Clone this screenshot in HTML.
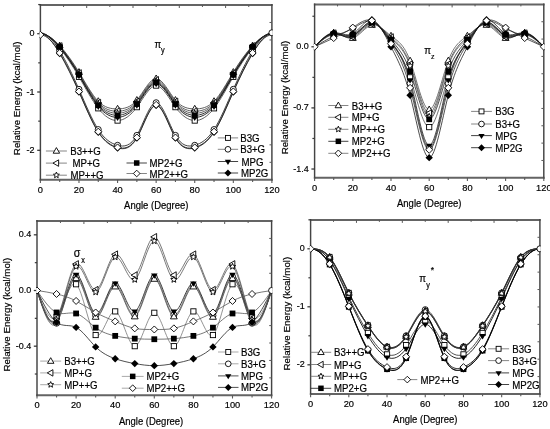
<!DOCTYPE html>
<html><head><meta charset="utf-8"><title>Relative Energy vs Angle</title>
<style>
html,body{margin:0;padding:0;background:#fff;}
body{width:550px;height:429px;overflow:hidden;}
svg{display:block;}
#wrap{width:550px;height:429px;will-change:transform;}
svg text{font-family:"Liberation Sans", sans-serif;fill:#000;stroke:#000;stroke-width:0.18px;}
</style></head>
<body>
<div id="wrap">
<svg width="550" height="429" viewBox="0 0 550 429">
<rect width="550" height="429" fill="#fff"/>
<defs><clipPath id="c1"><rect x="39.6" y="5" width="233.1" height="174.8"/></clipPath><clipPath id="c2"><rect x="313.8" y="4.4" width="230.8" height="173.4"/></clipPath><clipPath id="c3"><rect x="36.2" y="221" width="236.2" height="174.3"/></clipPath><clipPath id="c4"><rect x="309.8" y="219.9" width="230.9" height="174.1"/></clipPath></defs>
<path d="M39.67,5 H272.62 M39.67,179.8 H272.62" fill="none" stroke="#646464" stroke-width="1.95"/><path d="M40.4,4.03 V180.78 M271.9,4.03 V180.78" fill="none" stroke="#444" stroke-width="1.45"/><line x1="40.4" y1="179.8" x2="40.4" y2="183" stroke="#5a5a5a" stroke-width="1.1"/><line x1="59.69" y1="179.8" x2="59.69" y2="182" stroke="#5a5a5a" stroke-width="1.1"/><line x1="78.98" y1="179.8" x2="78.98" y2="183" stroke="#5a5a5a" stroke-width="1.1"/><line x1="98.27" y1="179.8" x2="98.27" y2="182" stroke="#5a5a5a" stroke-width="1.1"/><line x1="117.57" y1="179.8" x2="117.57" y2="183" stroke="#5a5a5a" stroke-width="1.1"/><line x1="136.86" y1="179.8" x2="136.86" y2="182" stroke="#5a5a5a" stroke-width="1.1"/><line x1="156.15" y1="179.8" x2="156.15" y2="183" stroke="#5a5a5a" stroke-width="1.1"/><line x1="175.44" y1="179.8" x2="175.44" y2="182" stroke="#5a5a5a" stroke-width="1.1"/><line x1="194.73" y1="179.8" x2="194.73" y2="183" stroke="#5a5a5a" stroke-width="1.1"/><line x1="214.02" y1="179.8" x2="214.02" y2="182" stroke="#5a5a5a" stroke-width="1.1"/><line x1="233.32" y1="179.8" x2="233.32" y2="183" stroke="#5a5a5a" stroke-width="1.1"/><line x1="252.61" y1="179.8" x2="252.61" y2="182" stroke="#5a5a5a" stroke-width="1.1"/><line x1="271.9" y1="179.8" x2="271.9" y2="183" stroke="#5a5a5a" stroke-width="1.1"/><line x1="63.55" y1="5" x2="63.55" y2="7" stroke="#5a5a5a" stroke-width="1"/><line x1="86.7" y1="5" x2="86.7" y2="8" stroke="#5a5a5a" stroke-width="1"/><line x1="109.85" y1="5" x2="109.85" y2="7" stroke="#5a5a5a" stroke-width="1"/><line x1="133" y1="5" x2="133" y2="8" stroke="#5a5a5a" stroke-width="1"/><line x1="156.15" y1="5" x2="156.15" y2="7" stroke="#5a5a5a" stroke-width="1"/><line x1="179.3" y1="5" x2="179.3" y2="8" stroke="#5a5a5a" stroke-width="1"/><line x1="202.45" y1="5" x2="202.45" y2="7" stroke="#5a5a5a" stroke-width="1"/><line x1="225.6" y1="5" x2="225.6" y2="8" stroke="#5a5a5a" stroke-width="1"/><line x1="248.75" y1="5" x2="248.75" y2="7" stroke="#5a5a5a" stroke-width="1"/><line x1="271.9" y1="22.48" x2="269.5" y2="22.48" stroke="#5a5a5a" stroke-width="1"/><line x1="271.9" y1="39.96" x2="269.5" y2="39.96" stroke="#5a5a5a" stroke-width="1"/><line x1="271.9" y1="57.44" x2="269.5" y2="57.44" stroke="#5a5a5a" stroke-width="1"/><line x1="271.9" y1="74.92" x2="269.5" y2="74.92" stroke="#5a5a5a" stroke-width="1"/><line x1="271.9" y1="92.4" x2="269.5" y2="92.4" stroke="#5a5a5a" stroke-width="1"/><line x1="271.9" y1="109.88" x2="269.5" y2="109.88" stroke="#5a5a5a" stroke-width="1"/><line x1="271.9" y1="127.36" x2="269.5" y2="127.36" stroke="#5a5a5a" stroke-width="1"/><line x1="271.9" y1="144.84" x2="269.5" y2="144.84" stroke="#5a5a5a" stroke-width="1"/><line x1="271.9" y1="162.32" x2="269.5" y2="162.32" stroke="#5a5a5a" stroke-width="1"/><line x1="40.4" y1="33.7" x2="37.2" y2="33.7" stroke="#333" stroke-width="1.25"/><line x1="40.4" y1="92" x2="37.2" y2="92" stroke="#333" stroke-width="1.25"/><line x1="40.4" y1="150.3" x2="37.2" y2="150.3" stroke="#333" stroke-width="1.25"/><line x1="40.4" y1="4.55" x2="38.2" y2="4.55" stroke="#3a3a3a" stroke-width="1.2"/><line x1="40.4" y1="62.85" x2="38.2" y2="62.85" stroke="#3a3a3a" stroke-width="1.2"/><line x1="40.4" y1="121.15" x2="38.2" y2="121.15" stroke="#3a3a3a" stroke-width="1.2"/><text transform="translate(34.6,36.2) scale(1,1.1)" font-size="9.0" text-anchor="end">0</text><text transform="translate(34.6,94.5) scale(1,1.1)" font-size="9.0" text-anchor="end">-1</text><text transform="translate(34.6,152.8) scale(1,1.1)" font-size="9.0" text-anchor="end">-2</text><text transform="translate(40.4,192.6) scale(1,1.06)" font-size="9.3" text-anchor="middle">0</text><text transform="translate(78.98,192.6) scale(1,1.06)" font-size="9.3" text-anchor="middle">20</text><text transform="translate(117.57,192.6) scale(1,1.06)" font-size="9.3" text-anchor="middle">40</text><text transform="translate(156.15,192.6) scale(1,1.06)" font-size="9.3" text-anchor="middle">60</text><text transform="translate(194.73,192.6) scale(1,1.06)" font-size="9.3" text-anchor="middle">80</text><text transform="translate(233.32,192.6) scale(1,1.06)" font-size="9.3" text-anchor="middle">100</text><text transform="translate(271.9,192.6) scale(1,1.06)" font-size="9.3" text-anchor="middle">120</text>
<g clip-path="url(#c1)">
<path d="M40.4,33.7 C46.83,33.7 53.26,38.67 59.69,45.65 C66.12,52.64 72.55,61.65 78.98,72.18 C85.41,82.71 91.84,94.77 98.27,101.33 C104.71,107.89 111.14,108.95 117.57,108.91 C124,108.87 130.43,107.73 136.86,100.16 C143.29,92.59 149.72,78.59 156.15,78.59 C162.58,78.59 169.01,92.59 175.44,100.16 C181.87,107.73 188.3,108.87 194.73,108.91 C201.16,108.95 207.59,107.89 214.02,101.33 C220.46,94.77 226.89,82.71 233.32,72.18 C239.75,61.65 246.18,52.64 252.61,45.65 C259.04,38.67 265.47,33.7 271.9,33.7" fill="none" stroke="#444" stroke-width="0.85"/><path d="M40.4,33.7 C46.83,33.7 53.26,38.92 59.69,46.12 C66.12,53.31 72.55,62.48 78.98,73.11 C85.41,83.74 91.84,95.84 98.27,102.73 C104.71,109.62 111.14,111.3 117.57,111.24 C124,111.17 130.43,109.36 136.86,101.56 C143.29,93.77 149.72,79.99 156.15,79.99 C162.58,79.99 169.01,93.77 175.44,101.56 C181.87,109.36 188.3,111.17 194.73,111.24 C201.16,111.3 207.59,109.62 214.02,102.73 C220.46,95.84 226.89,83.74 233.32,73.11 C239.75,62.48 246.18,53.31 252.61,46.12 C259.04,38.92 265.47,33.7 271.9,33.7" fill="none" stroke="#444" stroke-width="0.85"/><path d="M40.4,33.7 C46.83,33.7 53.26,39.15 59.69,46.53 C66.12,53.9 72.55,63.21 78.98,73.93 C85.41,84.64 91.84,96.77 98.27,103.95 C104.71,111.13 111.14,113.37 117.57,113.28 C124,113.19 130.43,110.78 136.86,102.79 C143.29,94.79 149.72,81.21 156.15,81.21 C162.58,81.21 169.01,94.79 175.44,102.79 C181.87,110.78 188.3,113.19 194.73,113.28 C201.16,113.37 207.59,111.13 214.02,103.95 C220.46,96.77 226.89,84.64 233.32,73.93 C239.75,63.21 246.18,53.9 252.61,46.53 C259.04,39.15 265.47,33.7 271.9,33.7" fill="none" stroke="#444" stroke-width="0.85"/><path d="M40.4,33.7 C46.83,33.7 53.26,39.37 59.69,46.93 C66.12,54.49 72.55,63.94 78.98,74.74 C85.41,85.55 91.84,97.7 98.27,105.18 C104.71,112.65 111.14,115.43 117.57,115.32 C124,115.21 130.43,112.2 136.86,104.01 C143.29,95.82 149.72,82.44 156.15,82.44 C162.58,82.44 169.01,95.82 175.44,104.01 C181.87,112.2 188.3,115.21 194.73,115.32 C201.16,115.43 207.59,112.65 214.02,105.18 C220.46,97.7 226.89,85.55 233.32,74.74 C239.75,63.94 246.18,54.49 252.61,46.93 C259.04,39.37 265.47,33.7 271.9,33.7" fill="none" stroke="#111" stroke-width="0.85"/><path d="M40.4,33.7 C46.83,33.7 53.26,39.6 59.69,47.34 C66.12,55.08 72.55,64.67 78.98,75.56 C85.41,86.45 91.84,98.64 98.27,106.4 C104.71,114.16 111.14,117.49 117.57,117.36 C124,117.23 130.43,113.62 136.86,105.23 C143.29,96.84 149.72,83.66 156.15,83.66 C162.58,83.66 169.01,96.84 175.44,105.23 C181.87,113.62 188.3,117.23 194.73,117.36 C201.16,117.49 207.59,114.16 214.02,106.4 C220.46,98.64 226.89,86.45 233.32,75.56 C239.75,64.67 246.18,55.08 252.61,47.34 C259.04,39.6 265.47,33.7 271.9,33.7" fill="none" stroke="#000" stroke-width="0.85"/><path d="M40.4,33.7 C46.83,33.7 53.26,39.95 59.69,47.98 C66.12,56.01 72.55,65.82 78.98,76.84 C85.41,87.87 91.84,100.11 98.27,108.32 C104.71,116.54 111.14,120.74 117.57,120.57 C124,120.4 130.43,115.86 136.86,107.16 C143.29,98.46 149.72,85.59 156.15,85.59 C162.58,85.59 169.01,98.46 175.44,107.16 C181.87,115.86 188.3,120.4 194.73,120.57 C201.16,120.74 207.59,116.54 214.02,108.32 C220.46,100.11 226.89,87.87 233.32,76.84 C239.75,65.82 246.18,56.01 252.61,47.98 C259.04,39.95 265.47,33.7 271.9,33.7" fill="none" stroke="#444" stroke-width="0.85"/><path d="M40.4,33.7 C46.83,33.7 53.26,42.56 59.69,53.52 C66.12,64.48 72.55,77.55 78.98,92 C85.41,106.45 91.84,122.28 98.27,132.23 C104.71,142.17 111.14,146.23 117.57,147.97 C124,149.71 130.43,149.13 136.86,138.06 C143.29,126.98 149.72,105.41 156.15,105.41 C162.58,105.41 169.01,126.98 175.44,138.06 C181.87,149.13 188.3,149.71 194.73,147.97 C201.16,146.23 207.59,142.17 214.02,132.23 C220.46,122.28 226.89,106.45 233.32,92 C239.75,77.55 246.18,64.48 252.61,53.52 C259.04,42.56 265.47,33.7 271.9,33.7" fill="none" stroke="#222" stroke-width="0.85"/><path d="M40.4,32.77 C46.83,32.77 53.26,40.35 59.69,50.84 C66.12,61.33 72.55,74.74 78.98,89.32 C85.41,103.89 91.84,119.63 98.27,129.55 C104.71,139.46 111.14,143.54 117.57,145.29 C124,147.04 130.43,146.45 136.86,135.38 C143.29,124.3 149.72,102.73 156.15,102.73 C162.58,102.73 169.01,124.3 175.44,135.38 C181.87,146.45 188.3,147.04 194.73,145.29 C201.16,143.54 207.59,139.46 214.02,129.55 C220.46,119.63 226.89,103.89 233.32,89.32 C239.75,74.74 246.18,61.33 252.61,50.84 C259.04,40.35 265.47,32.77 271.9,32.77" fill="none" stroke="#222" stroke-width="0.85"/><path d="M40.4,34.87 C46.83,34.87 53.26,42.45 59.69,52.94 C66.12,63.43 72.55,76.84 78.98,91.42 C85.41,105.99 91.84,121.73 98.27,131.64 C104.71,141.56 111.14,145.64 117.57,147.38 C124,149.13 130.43,148.55 136.86,137.47 C143.29,126.4 149.72,104.83 156.15,104.83 C162.58,104.83 169.01,126.4 175.44,137.47 C181.87,148.55 188.3,149.13 194.73,147.38 C201.16,145.64 207.59,141.56 214.02,131.64 C220.46,121.73 226.89,105.99 233.32,91.42 C239.75,76.84 246.18,63.43 252.61,52.94 C259.04,42.45 265.47,34.87 271.9,34.87" fill="none" stroke="#222" stroke-width="0.85"/><rect x="57.09" y="45.38" width="5.2" height="5.2" fill="#fff" stroke="#000" stroke-width="0.9"/><rect x="76.38" y="74.24" width="5.2" height="5.2" fill="#fff" stroke="#000" stroke-width="0.9"/><rect x="95.67" y="105.72" width="5.2" height="5.2" fill="#fff" stroke="#000" stroke-width="0.9"/><rect x="114.97" y="117.97" width="5.2" height="5.2" fill="#fff" stroke="#000" stroke-width="0.9"/><rect x="134.26" y="104.56" width="5.2" height="5.2" fill="#fff" stroke="#000" stroke-width="0.9"/><rect x="153.55" y="82.99" width="5.2" height="5.2" fill="#fff" stroke="#000" stroke-width="0.9"/><rect x="172.84" y="104.56" width="5.2" height="5.2" fill="#fff" stroke="#000" stroke-width="0.9"/><rect x="192.13" y="117.97" width="5.2" height="5.2" fill="#fff" stroke="#000" stroke-width="0.9"/><rect x="211.42" y="105.72" width="5.2" height="5.2" fill="#fff" stroke="#000" stroke-width="0.9"/><rect x="230.72" y="74.24" width="5.2" height="5.2" fill="#fff" stroke="#000" stroke-width="0.9"/><rect x="250.01" y="45.38" width="5.2" height="5.2" fill="#fff" stroke="#000" stroke-width="0.9"/><circle cx="59.69" cy="50.84" r="3" fill="#fff" stroke="#000" stroke-width="0.9"/><circle cx="78.98" cy="89.32" r="3" fill="#fff" stroke="#000" stroke-width="0.9"/><circle cx="98.27" cy="129.55" r="3" fill="#fff" stroke="#000" stroke-width="0.9"/><circle cx="117.57" cy="145.29" r="3" fill="#fff" stroke="#000" stroke-width="0.9"/><circle cx="136.86" cy="135.38" r="3" fill="#fff" stroke="#000" stroke-width="0.9"/><circle cx="156.15" cy="102.73" r="3" fill="#fff" stroke="#000" stroke-width="0.9"/><circle cx="175.44" cy="135.38" r="3" fill="#fff" stroke="#000" stroke-width="0.9"/><circle cx="194.73" cy="145.29" r="3" fill="#fff" stroke="#000" stroke-width="0.9"/><circle cx="214.02" cy="129.55" r="3" fill="#fff" stroke="#000" stroke-width="0.9"/><circle cx="233.32" cy="89.32" r="3" fill="#fff" stroke="#000" stroke-width="0.9"/><circle cx="252.61" cy="50.84" r="3" fill="#fff" stroke="#000" stroke-width="0.9"/><circle cx="271.9" cy="32.77" r="3" fill="#fff" stroke="#000" stroke-width="0.9"/><path d="M59.69,42.05 L63.11,47.99 L56.27,47.99 Z" fill="#fff" stroke="#000" stroke-width="0.9"/><path d="M78.98,68.58 L82.4,74.52 L75.56,74.52 Z" fill="#fff" stroke="#000" stroke-width="0.9"/><path d="M98.27,97.73 L101.69,103.67 L94.85,103.67 Z" fill="#fff" stroke="#000" stroke-width="0.9"/><path d="M117.57,105.31 L120.99,111.25 L114.15,111.25 Z" fill="#fff" stroke="#000" stroke-width="0.9"/><path d="M136.86,96.56 L140.28,102.5 L133.44,102.5 Z" fill="#fff" stroke="#000" stroke-width="0.9"/><path d="M156.15,74.99 L159.57,80.93 L152.73,80.93 Z" fill="#fff" stroke="#000" stroke-width="0.9"/><path d="M175.44,96.56 L178.86,102.5 L172.02,102.5 Z" fill="#fff" stroke="#000" stroke-width="0.9"/><path d="M194.73,105.31 L198.15,111.25 L191.31,111.25 Z" fill="#fff" stroke="#000" stroke-width="0.9"/><path d="M214.02,97.73 L217.44,103.67 L210.6,103.67 Z" fill="#fff" stroke="#000" stroke-width="0.9"/><path d="M233.32,68.58 L236.74,74.52 L229.9,74.52 Z" fill="#fff" stroke="#000" stroke-width="0.9"/><path d="M252.61,42.05 L256.03,47.99 L249.19,47.99 Z" fill="#fff" stroke="#000" stroke-width="0.9"/><path d="M59.69,50.94 L62.99,45.54 L56.39,45.54 Z" fill="#000"/><path d="M78.98,79.16 L82.28,73.76 L75.68,73.76 Z" fill="#000"/><path d="M98.27,110 L101.57,104.6 L94.97,104.6 Z" fill="#000"/><path d="M117.57,120.96 L120.87,115.56 L114.27,115.56 Z" fill="#000"/><path d="M136.86,108.83 L140.16,103.43 L133.56,103.43 Z" fill="#000"/><path d="M156.15,87.26 L159.45,81.86 L152.85,81.86 Z" fill="#000"/><path d="M175.44,108.83 L178.74,103.43 L172.14,103.43 Z" fill="#000"/><path d="M194.73,120.96 L198.03,115.56 L191.43,115.56 Z" fill="#000"/><path d="M214.02,110 L217.32,104.6 L210.72,104.6 Z" fill="#000"/><path d="M233.32,79.16 L236.62,73.76 L230.02,73.76 Z" fill="#000"/><path d="M252.61,50.94 L255.91,45.54 L249.31,45.54 Z" fill="#000"/><path d="M56.09,46.12 L62.03,42.7 L62.03,49.54 Z" fill="#fff" stroke="#000" stroke-width="0.9"/><path d="M75.38,73.11 L81.32,69.69 L81.32,76.53 Z" fill="#fff" stroke="#000" stroke-width="0.9"/><path d="M94.67,102.73 L100.61,99.31 L100.61,106.15 Z" fill="#fff" stroke="#000" stroke-width="0.9"/><path d="M113.97,111.24 L119.91,107.82 L119.91,114.66 Z" fill="#fff" stroke="#000" stroke-width="0.9"/><path d="M133.26,101.56 L139.2,98.14 L139.2,104.98 Z" fill="#fff" stroke="#000" stroke-width="0.9"/><path d="M152.55,79.99 L158.49,76.57 L158.49,83.41 Z" fill="#fff" stroke="#000" stroke-width="0.9"/><path d="M171.84,101.56 L177.78,98.14 L177.78,104.98 Z" fill="#fff" stroke="#000" stroke-width="0.9"/><path d="M191.13,111.24 L197.07,107.82 L197.07,114.66 Z" fill="#fff" stroke="#000" stroke-width="0.9"/><path d="M210.42,102.73 L216.36,99.31 L216.36,106.15 Z" fill="#fff" stroke="#000" stroke-width="0.9"/><path d="M229.72,73.11 L235.66,69.69 L235.66,76.53 Z" fill="#fff" stroke="#000" stroke-width="0.9"/><path d="M249.01,46.12 L254.95,42.7 L254.95,49.54 Z" fill="#fff" stroke="#000" stroke-width="0.9"/><path d="M59.69,43.23 L60.56,45.32 L62.83,45.51 L61.1,46.98 L61.63,49.2 L59.69,48.01 L57.75,49.2 L58.28,46.98 L56.55,45.51 L58.82,45.32 Z" fill="#fff" stroke="#000" stroke-width="0.9"/><path d="M78.98,70.63 L79.86,72.73 L82.12,72.91 L80.4,74.39 L80.92,76.6 L78.98,75.41 L77.04,76.6 L77.57,74.39 L75.84,72.91 L78.11,72.73 Z" fill="#fff" stroke="#000" stroke-width="0.9"/><path d="M98.27,100.65 L99.15,102.75 L101.41,102.93 L99.69,104.41 L100.21,106.62 L98.27,105.44 L96.34,106.62 L96.86,104.41 L95.14,102.93 L97.4,102.75 Z" fill="#fff" stroke="#000" stroke-width="0.9"/><path d="M117.57,109.98 L118.44,112.08 L120.71,112.26 L118.98,113.74 L119.51,115.95 L117.57,114.76 L115.63,115.95 L116.15,113.74 L114.43,112.26 L116.69,112.08 Z" fill="#fff" stroke="#000" stroke-width="0.9"/><path d="M136.86,99.49 L137.73,101.58 L140,101.77 L138.27,103.24 L138.8,105.46 L136.86,104.27 L134.92,105.46 L135.45,103.24 L133.72,101.77 L135.99,101.58 Z" fill="#fff" stroke="#000" stroke-width="0.9"/><path d="M156.15,77.91 L157.02,80.01 L159.29,80.19 L157.56,81.67 L158.09,83.88 L156.15,82.7 L154.21,83.88 L154.74,81.67 L153.01,80.19 L155.28,80.01 Z" fill="#fff" stroke="#000" stroke-width="0.9"/><path d="M175.44,99.49 L176.31,101.58 L178.58,101.77 L176.85,103.24 L177.38,105.46 L175.44,104.27 L173.5,105.46 L174.03,103.24 L172.3,101.77 L174.57,101.58 Z" fill="#fff" stroke="#000" stroke-width="0.9"/><path d="M194.73,109.98 L195.61,112.08 L197.87,112.26 L196.15,113.74 L196.67,115.95 L194.73,114.76 L192.79,115.95 L193.32,113.74 L191.59,112.26 L193.86,112.08 Z" fill="#fff" stroke="#000" stroke-width="0.9"/><path d="M214.02,100.65 L214.9,102.75 L217.16,102.93 L215.44,104.41 L215.96,106.62 L214.02,105.44 L212.09,106.62 L212.61,104.41 L210.89,102.93 L213.15,102.75 Z" fill="#fff" stroke="#000" stroke-width="0.9"/><path d="M233.32,70.63 L234.19,72.73 L236.46,72.91 L234.73,74.39 L235.26,76.6 L233.32,75.41 L231.38,76.6 L231.9,74.39 L230.18,72.91 L232.44,72.73 Z" fill="#fff" stroke="#000" stroke-width="0.9"/><path d="M252.61,43.23 L253.48,45.32 L255.75,45.51 L254.02,46.98 L254.55,49.2 L252.61,48.01 L250.67,49.2 L251.2,46.98 L249.47,45.51 L251.74,45.32 Z" fill="#fff" stroke="#000" stroke-width="0.9"/><path d="M59.69,49.82 L63.39,53.52 L59.69,57.22 L55.99,53.52 Z" fill="#000"/><path d="M78.98,88.3 L82.68,92 L78.98,95.7 L75.28,92 Z" fill="#000"/><path d="M98.27,128.53 L101.97,132.23 L98.27,135.93 L94.57,132.23 Z" fill="#000"/><path d="M117.57,144.27 L121.27,147.97 L117.57,151.67 L113.87,147.97 Z" fill="#000"/><path d="M136.86,134.36 L140.56,138.06 L136.86,141.76 L133.16,138.06 Z" fill="#000"/><path d="M156.15,101.71 L159.85,105.41 L156.15,109.11 L152.45,105.41 Z" fill="#000"/><path d="M175.44,134.36 L179.14,138.06 L175.44,141.76 L171.74,138.06 Z" fill="#000"/><path d="M194.73,144.27 L198.43,147.97 L194.73,151.67 L191.03,147.97 Z" fill="#000"/><path d="M214.02,128.53 L217.72,132.23 L214.02,135.93 L210.32,132.23 Z" fill="#000"/><path d="M233.32,88.3 L237.02,92 L233.32,95.7 L229.62,92 Z" fill="#000"/><path d="M252.61,49.82 L256.31,53.52 L252.61,57.22 L248.91,53.52 Z" fill="#000"/><rect x="56.79" y="44.03" width="5.8" height="5.8" fill="#000"/><rect x="76.08" y="71.84" width="5.8" height="5.8" fill="#000"/><rect x="95.37" y="102.28" width="5.8" height="5.8" fill="#000"/><rect x="114.67" y="112.42" width="5.8" height="5.8" fill="#000"/><rect x="133.96" y="101.11" width="5.8" height="5.8" fill="#000"/><rect x="153.25" y="79.54" width="5.8" height="5.8" fill="#000"/><rect x="172.54" y="101.11" width="5.8" height="5.8" fill="#000"/><rect x="191.83" y="112.42" width="5.8" height="5.8" fill="#000"/><rect x="211.12" y="102.28" width="5.8" height="5.8" fill="#000"/><rect x="230.42" y="71.84" width="5.8" height="5.8" fill="#000"/><rect x="249.71" y="44.03" width="5.8" height="5.8" fill="#000"/><path d="M40.4,31.37 L43.9,34.87 L40.4,38.37 L36.9,34.87 Z" fill="#fff" stroke="#000" stroke-width="0.9"/><path d="M59.69,49.44 L63.19,52.94 L59.69,56.44 L56.19,52.94 Z" fill="#fff" stroke="#000" stroke-width="0.9"/><path d="M78.98,87.92 L82.48,91.42 L78.98,94.92 L75.48,91.42 Z" fill="#fff" stroke="#000" stroke-width="0.9"/><path d="M98.27,128.14 L101.77,131.64 L98.27,135.14 L94.77,131.64 Z" fill="#fff" stroke="#000" stroke-width="0.9"/><path d="M117.57,143.88 L121.07,147.38 L117.57,150.88 L114.07,147.38 Z" fill="#fff" stroke="#000" stroke-width="0.9"/><path d="M136.86,133.97 L140.36,137.47 L136.86,140.97 L133.36,137.47 Z" fill="#fff" stroke="#000" stroke-width="0.9"/><path d="M156.15,101.33 L159.65,104.83 L156.15,108.33 L152.65,104.83 Z" fill="#fff" stroke="#000" stroke-width="0.9"/><path d="M175.44,133.97 L178.94,137.47 L175.44,140.97 L171.94,137.47 Z" fill="#fff" stroke="#000" stroke-width="0.9"/><path d="M194.73,143.88 L198.23,147.38 L194.73,150.88 L191.23,147.38 Z" fill="#fff" stroke="#000" stroke-width="0.9"/><path d="M214.02,128.14 L217.52,131.64 L214.02,135.14 L210.52,131.64 Z" fill="#fff" stroke="#000" stroke-width="0.9"/><path d="M233.32,87.92 L236.82,91.42 L233.32,94.92 L229.82,91.42 Z" fill="#fff" stroke="#000" stroke-width="0.9"/><path d="M252.61,49.44 L256.11,52.94 L252.61,56.44 L249.11,52.94 Z" fill="#fff" stroke="#000" stroke-width="0.9"/>
</g>
<text transform="translate(154.6,47.6) scale(1,1.12)" font-size="9.8" text-anchor="start">&#960;</text>
<text transform="translate(161,53.2) scale(1,1.12)" font-size="7.3" text-anchor="start">y</text>
<line x1="45.9" y1="151" x2="66.9" y2="151" stroke="#707070" stroke-width="0.85"/><path d="M56.4,147.58 L59.65,153.22 L53.15,153.22 Z" fill="#fff" stroke="#000" stroke-width="0.9"/><text transform="translate(70.2,155) scale(1,1.08)" font-size="9.65" text-anchor="start">B3++G</text>
<line x1="45.9" y1="163.1" x2="66.9" y2="163.1" stroke="#707070" stroke-width="0.85"/><path d="M52.98,163.1 L58.62,159.85 L58.62,166.35 Z" fill="#fff" stroke="#000" stroke-width="0.9"/><text transform="translate(72.5,167.1) scale(1,1.08)" font-size="9.65" text-anchor="start">MP+G</text>
<line x1="45.9" y1="175.2" x2="66.9" y2="175.2" stroke="#707070" stroke-width="0.85"/><path d="M56.4,172.06 L57.23,174.06 L59.38,174.23 L57.74,175.64 L58.24,177.74 L56.4,176.61 L54.56,177.74 L55.06,175.64 L53.42,174.23 L55.57,174.06 Z" fill="#fff" stroke="#000" stroke-width="0.9"/><text transform="translate(70.4,179.2) scale(1,1.08)" font-size="9.65" text-anchor="start">MP++G</text>
<line x1="126.5" y1="163" x2="146.9" y2="163" stroke="#222" stroke-width="0.85"/><rect x="133.94" y="160.25" width="5.51" height="5.51" fill="#000"/><text transform="translate(149.5,167) scale(1,1.08)" font-size="9.65" text-anchor="start">MP2+G</text>
<line x1="126.5" y1="173.5" x2="146.9" y2="173.5" stroke="#707070" stroke-width="0.85"/><path d="M136.7,170.18 L140.02,173.5 L136.7,176.82 L133.38,173.5 Z" fill="#fff" stroke="#000" stroke-width="0.9"/><text transform="translate(149.5,177.5) scale(1,1.08)" font-size="9.65" text-anchor="start">MP2++G</text>
<line x1="217.8" y1="137.9" x2="238.1" y2="137.9" stroke="#707070" stroke-width="0.85"/><rect x="225.48" y="135.43" width="4.94" height="4.94" fill="#fff" stroke="#000" stroke-width="0.9"/><text transform="translate(240.2,141.9) scale(1,1.08)" font-size="9.65" text-anchor="start">B3G</text>
<line x1="217.8" y1="149.3" x2="238.1" y2="149.3" stroke="#707070" stroke-width="0.85"/><circle cx="227.95" cy="149.3" r="2.85" fill="#fff" stroke="#000" stroke-width="0.9"/><text transform="translate(240.2,153.3) scale(1,1.08)" font-size="9.65" text-anchor="start">B3+G</text>
<line x1="217.8" y1="161.5" x2="238.1" y2="161.5" stroke="#222" stroke-width="0.85"/><path d="M227.95,164.92 L231.08,159.79 L224.81,159.79 Z" fill="#000"/><text transform="translate(241.5,165.5) scale(1,1.08)" font-size="9.65" text-anchor="start">MPG</text>
<line x1="217.8" y1="173" x2="238.1" y2="173" stroke="#222" stroke-width="0.85"/><path d="M227.95,169.49 L231.46,173 L227.95,176.51 L224.44,173 Z" fill="#000"/><text transform="translate(241,177) scale(1,1.08)" font-size="9.65" text-anchor="start">MP2G</text>
<text x="0" y="0" font-size="9.9" text-anchor="middle" transform="translate(19.9,98.3) scale(1,0.985) rotate(-90)">Relative Energy (kcal/mol)</text>
<text transform="translate(156.3,209) scale(1,1.12)" font-size="9.5" text-anchor="middle">Angle (Degree)</text>
<path d="M313.88,4.4 H544.52 M313.88,177.8 H544.52" fill="none" stroke="#646464" stroke-width="1.95"/><path d="M314.6,3.43 V178.78 M543.8,3.43 V178.78" fill="none" stroke="#444" stroke-width="1.45"/><line x1="314.6" y1="177.8" x2="314.6" y2="181" stroke="#5a5a5a" stroke-width="1.1"/><line x1="333.7" y1="177.8" x2="333.7" y2="180" stroke="#5a5a5a" stroke-width="1.1"/><line x1="352.8" y1="177.8" x2="352.8" y2="181" stroke="#5a5a5a" stroke-width="1.1"/><line x1="371.9" y1="177.8" x2="371.9" y2="180" stroke="#5a5a5a" stroke-width="1.1"/><line x1="391" y1="177.8" x2="391" y2="181" stroke="#5a5a5a" stroke-width="1.1"/><line x1="410.1" y1="177.8" x2="410.1" y2="180" stroke="#5a5a5a" stroke-width="1.1"/><line x1="429.2" y1="177.8" x2="429.2" y2="181" stroke="#5a5a5a" stroke-width="1.1"/><line x1="448.3" y1="177.8" x2="448.3" y2="180" stroke="#5a5a5a" stroke-width="1.1"/><line x1="467.4" y1="177.8" x2="467.4" y2="181" stroke="#5a5a5a" stroke-width="1.1"/><line x1="486.5" y1="177.8" x2="486.5" y2="180" stroke="#5a5a5a" stroke-width="1.1"/><line x1="505.6" y1="177.8" x2="505.6" y2="181" stroke="#5a5a5a" stroke-width="1.1"/><line x1="524.7" y1="177.8" x2="524.7" y2="180" stroke="#5a5a5a" stroke-width="1.1"/><line x1="543.8" y1="177.8" x2="543.8" y2="181" stroke="#5a5a5a" stroke-width="1.1"/><line x1="337.52" y1="4.4" x2="337.52" y2="6.4" stroke="#5a5a5a" stroke-width="1"/><line x1="360.44" y1="4.4" x2="360.44" y2="7.4" stroke="#5a5a5a" stroke-width="1"/><line x1="383.36" y1="4.4" x2="383.36" y2="6.4" stroke="#5a5a5a" stroke-width="1"/><line x1="406.28" y1="4.4" x2="406.28" y2="7.4" stroke="#5a5a5a" stroke-width="1"/><line x1="429.2" y1="4.4" x2="429.2" y2="6.4" stroke="#5a5a5a" stroke-width="1"/><line x1="452.12" y1="4.4" x2="452.12" y2="7.4" stroke="#5a5a5a" stroke-width="1"/><line x1="475.04" y1="4.4" x2="475.04" y2="6.4" stroke="#5a5a5a" stroke-width="1"/><line x1="497.96" y1="4.4" x2="497.96" y2="7.4" stroke="#5a5a5a" stroke-width="1"/><line x1="520.88" y1="4.4" x2="520.88" y2="6.4" stroke="#5a5a5a" stroke-width="1"/><line x1="543.8" y1="21.74" x2="541.4" y2="21.74" stroke="#5a5a5a" stroke-width="1"/><line x1="543.8" y1="39.08" x2="541.4" y2="39.08" stroke="#5a5a5a" stroke-width="1"/><line x1="543.8" y1="56.42" x2="541.4" y2="56.42" stroke="#5a5a5a" stroke-width="1"/><line x1="543.8" y1="73.76" x2="541.4" y2="73.76" stroke="#5a5a5a" stroke-width="1"/><line x1="543.8" y1="91.1" x2="541.4" y2="91.1" stroke="#5a5a5a" stroke-width="1"/><line x1="543.8" y1="108.44" x2="541.4" y2="108.44" stroke="#5a5a5a" stroke-width="1"/><line x1="543.8" y1="125.78" x2="541.4" y2="125.78" stroke="#5a5a5a" stroke-width="1"/><line x1="543.8" y1="143.12" x2="541.4" y2="143.12" stroke="#5a5a5a" stroke-width="1"/><line x1="543.8" y1="160.46" x2="541.4" y2="160.46" stroke="#5a5a5a" stroke-width="1"/><line x1="314.6" y1="46.8" x2="311.4" y2="46.8" stroke="#333" stroke-width="1.25"/><line x1="314.6" y1="107.91" x2="311.4" y2="107.91" stroke="#333" stroke-width="1.25"/><line x1="314.6" y1="169.02" x2="311.4" y2="169.02" stroke="#333" stroke-width="1.25"/><line x1="314.6" y1="16.25" x2="312.4" y2="16.25" stroke="#3a3a3a" stroke-width="1.2"/><line x1="314.6" y1="77.35" x2="312.4" y2="77.35" stroke="#3a3a3a" stroke-width="1.2"/><line x1="314.6" y1="138.47" x2="312.4" y2="138.47" stroke="#3a3a3a" stroke-width="1.2"/><text transform="translate(308.8,49.3) scale(1,1.1)" font-size="9.0" text-anchor="end">0.0</text><text transform="translate(308.8,110.41) scale(1,1.1)" font-size="9.0" text-anchor="end">-0.7</text><text transform="translate(308.8,171.52) scale(1,1.1)" font-size="9.0" text-anchor="end">-1.4</text><text transform="translate(314.6,190.6) scale(1,1.06)" font-size="9.3" text-anchor="middle">0</text><text transform="translate(352.8,190.6) scale(1,1.06)" font-size="9.3" text-anchor="middle">20</text><text transform="translate(391,190.6) scale(1,1.06)" font-size="9.3" text-anchor="middle">40</text><text transform="translate(429.2,190.6) scale(1,1.06)" font-size="9.3" text-anchor="middle">60</text><text transform="translate(467.4,190.6) scale(1,1.06)" font-size="9.3" text-anchor="middle">80</text><text transform="translate(505.6,190.6) scale(1,1.06)" font-size="9.3" text-anchor="middle">100</text><text transform="translate(543.8,190.6) scale(1,1.06)" font-size="9.3" text-anchor="middle">120</text>
<g clip-path="url(#c2)">
<path d="M314.6,46.8 C320.97,39.84 327.33,32.87 333.7,32.83 C340.07,32.79 346.43,39.68 352.8,38.07 C359.17,36.46 365.53,26.37 371.9,24.97 C378.27,23.58 384.63,30.89 391,35.89 C397.37,40.89 403.73,43.58 410.1,60.77 C416.47,77.96 422.83,109.66 429.2,109.66 C435.57,109.66 441.93,77.96 448.3,60.77 C454.67,43.58 461.03,40.89 467.4,35.89 C473.77,30.89 480.13,23.58 486.5,24.97 C492.87,26.37 499.23,36.46 505.6,38.07 C511.97,39.68 518.33,32.79 524.7,32.83 C531.07,32.87 537.43,39.84 543.8,46.8" fill="none" stroke="#444" stroke-width="0.75"/><path d="M314.6,46.8 C320.97,40.18 327.33,33.56 333.7,33.27 C340.07,32.98 346.43,39.01 352.8,37.02 C359.17,35.04 365.53,25.04 371.9,24.1 C378.27,23.17 384.63,31.3 391,37.2 C397.37,43.09 403.73,46.75 410.1,64.26 C416.47,81.77 422.83,113.15 429.2,113.15 C435.57,113.15 441.93,81.77 448.3,64.26 C454.67,46.75 461.03,43.09 467.4,37.2 C473.77,31.3 480.13,23.17 486.5,24.1 C492.87,25.04 499.23,35.04 505.6,37.02 C511.97,39.01 518.33,32.98 524.7,33.27 C531.07,33.56 537.43,40.18 543.8,46.8" fill="none" stroke="#444" stroke-width="0.75"/><path d="M314.6,46.8 C320.97,40.53 327.33,34.27 333.7,33.7 C340.07,33.14 346.43,38.29 352.8,35.89 C359.17,33.49 365.53,23.54 371.9,23.23 C378.27,22.91 384.63,32.22 391,38.51 C397.37,44.79 403.73,48.04 410.1,66.01 C416.47,83.97 422.83,116.64 429.2,116.64 C435.57,116.64 441.93,83.97 448.3,66.01 C454.67,48.04 461.03,44.79 467.4,38.51 C473.77,32.22 480.13,22.91 486.5,23.23 C492.87,23.54 499.23,33.49 505.6,35.89 C511.97,38.29 518.33,33.14 524.7,33.7 C531.07,34.27 537.43,40.53 543.8,46.8" fill="none" stroke="#444" stroke-width="0.75"/><path d="M314.6,46.8 C320.97,40.92 327.33,35.04 333.7,34.14 C340.07,33.24 346.43,37.31 352.8,34.58 C359.17,31.84 365.53,22.29 371.9,22.36 C378.27,22.42 384.63,32.09 391,39.82 C397.37,47.54 403.73,53.31 410.1,71.24 C416.47,89.17 422.83,119.26 429.2,119.26 C435.57,119.26 441.93,89.17 448.3,71.24 C454.67,53.31 461.03,47.54 467.4,39.82 C473.77,32.09 480.13,22.42 486.5,22.36 C492.87,22.29 499.23,31.84 505.6,34.58 C511.97,37.31 518.33,33.24 524.7,34.14 C531.07,35.04 537.43,40.92 543.8,46.8" fill="none" stroke="#111" stroke-width="0.75"/><path d="M314.6,46.8 C320.97,41.06 327.33,35.32 333.7,34.58 C340.07,33.83 346.43,38.07 352.8,35.45 C359.17,32.83 365.53,23.34 371.9,23.23 C378.27,23.12 384.63,32.4 391,41.13 C397.37,49.86 403.73,58.04 410.1,77.35 C416.47,96.67 422.83,127.12 429.2,127.12 C435.57,127.12 441.93,96.67 448.3,77.35 C454.67,58.04 461.03,49.86 467.4,41.13 C473.77,32.4 480.13,23.12 486.5,23.23 C492.87,23.34 499.23,32.83 505.6,35.45 C511.97,38.07 518.33,33.83 524.7,34.58 C531.07,35.32 537.43,41.06 543.8,46.8" fill="none" stroke="#444" stroke-width="0.75"/><path d="M314.6,46.8 C320.97,40.26 327.33,33.72 333.7,33.53 C340.07,33.34 346.43,39.5 352.8,36.5 C359.17,33.49 365.53,21.32 371.9,21.48 C378.27,21.65 384.63,34.16 391,42.87 C397.37,51.59 403.73,56.51 410.1,79.97 C416.47,103.44 422.83,145.45 429.2,145.45 C435.57,145.45 441.93,103.44 448.3,79.97 C454.67,56.51 461.03,51.59 467.4,42.87 C473.77,34.16 480.13,21.65 486.5,21.48 C492.87,21.32 499.23,33.49 505.6,36.5 C511.97,39.5 518.33,33.34 524.7,33.53 C531.07,33.72 537.43,40.26 543.8,46.8" fill="none" stroke="#111" stroke-width="0.75"/><path d="M314.6,46.8 C320.97,42.93 327.33,39.06 333.7,36.32 C340.07,33.58 346.43,31.97 352.8,28.47 C359.17,24.96 365.53,19.56 371.9,21.48 C378.27,23.4 384.63,32.65 391,41.56 C397.37,50.48 403.73,59.07 410.1,83.47 C416.47,107.86 422.83,148.07 429.2,148.07 C435.57,148.07 441.93,107.86 448.3,83.47 C454.67,59.07 461.03,50.48 467.4,41.56 C473.77,32.65 480.13,23.4 486.5,21.48 C492.87,19.56 499.23,24.96 505.6,28.47 C511.97,31.97 518.33,33.58 524.7,36.32 C531.07,39.06 537.43,42.93 543.8,46.8" fill="none" stroke="#222" stroke-width="0.75"/><path d="M314.6,46.8 C320.97,43.95 327.33,41.1 333.7,38.07 C340.07,35.04 346.43,31.84 352.8,27.59 C359.17,23.35 365.53,18.05 371.9,20.61 C378.27,23.17 384.63,33.57 391,43.74 C397.37,53.92 403.73,63.86 410.1,87.83 C416.47,111.81 422.83,149.81 429.2,149.81 C435.57,149.81 441.93,111.81 448.3,87.83 C454.67,63.86 461.03,53.92 467.4,43.74 C473.77,33.57 480.13,23.17 486.5,20.61 C492.87,18.05 499.23,23.35 505.6,27.59 C511.97,31.84 518.33,35.04 524.7,38.07 C531.07,41.1 537.43,43.95 543.8,46.8" fill="none" stroke="#222" stroke-width="0.75"/><path d="M314.6,46.8 C320.97,40.21 327.33,33.63 333.7,32.83 C340.07,32.03 346.43,37.03 352.8,33.7 C359.17,30.38 365.53,18.75 371.9,19.74 C378.27,20.72 384.63,34.32 391,46.8 C397.37,59.28 403.73,70.65 410.1,95.25 C416.47,119.85 422.83,157.67 429.2,157.67 C435.57,157.67 441.93,119.85 448.3,95.25 C454.67,70.65 461.03,59.28 467.4,46.8 C473.77,34.32 480.13,20.72 486.5,19.74 C492.87,18.75 499.23,30.38 505.6,33.7 C511.97,37.03 518.33,32.03 524.7,32.83 C531.07,33.63 537.43,40.21 543.8,46.8" fill="none" stroke="#111" stroke-width="0.75"/><rect x="331.1" y="31.98" width="5.2" height="5.2" fill="#fff" stroke="#000" stroke-width="0.9"/><rect x="350.2" y="32.85" width="5.2" height="5.2" fill="#fff" stroke="#000" stroke-width="0.9"/><rect x="369.3" y="20.63" width="5.2" height="5.2" fill="#fff" stroke="#000" stroke-width="0.9"/><rect x="388.4" y="38.53" width="5.2" height="5.2" fill="#fff" stroke="#000" stroke-width="0.9"/><rect x="407.5" y="74.75" width="5.2" height="5.2" fill="#fff" stroke="#000" stroke-width="0.9"/><rect x="426.6" y="124.52" width="5.2" height="5.2" fill="#fff" stroke="#000" stroke-width="0.9"/><rect x="445.7" y="74.75" width="5.2" height="5.2" fill="#fff" stroke="#000" stroke-width="0.9"/><rect x="464.8" y="38.53" width="5.2" height="5.2" fill="#fff" stroke="#000" stroke-width="0.9"/><rect x="483.9" y="20.63" width="5.2" height="5.2" fill="#fff" stroke="#000" stroke-width="0.9"/><rect x="503" y="32.85" width="5.2" height="5.2" fill="#fff" stroke="#000" stroke-width="0.9"/><rect x="522.1" y="31.98" width="5.2" height="5.2" fill="#fff" stroke="#000" stroke-width="0.9"/><circle cx="333.7" cy="36.32" r="3" fill="#fff" stroke="#000" stroke-width="0.9"/><circle cx="352.8" cy="28.47" r="3" fill="#fff" stroke="#000" stroke-width="0.9"/><circle cx="371.9" cy="21.48" r="3" fill="#fff" stroke="#000" stroke-width="0.9"/><circle cx="391" cy="41.56" r="3" fill="#fff" stroke="#000" stroke-width="0.9"/><circle cx="410.1" cy="83.47" r="3" fill="#fff" stroke="#000" stroke-width="0.9"/><circle cx="429.2" cy="148.07" r="3" fill="#fff" stroke="#000" stroke-width="0.9"/><circle cx="448.3" cy="83.47" r="3" fill="#fff" stroke="#000" stroke-width="0.9"/><circle cx="467.4" cy="41.56" r="3" fill="#fff" stroke="#000" stroke-width="0.9"/><circle cx="486.5" cy="21.48" r="3" fill="#fff" stroke="#000" stroke-width="0.9"/><circle cx="505.6" cy="28.47" r="3" fill="#fff" stroke="#000" stroke-width="0.9"/><circle cx="524.7" cy="36.32" r="3" fill="#fff" stroke="#000" stroke-width="0.9"/><path d="M333.7,29.23 L337.12,35.17 L330.28,35.17 Z" fill="#fff" stroke="#000" stroke-width="0.9"/><path d="M352.8,34.47 L356.22,40.41 L349.38,40.41 Z" fill="#fff" stroke="#000" stroke-width="0.9"/><path d="M371.9,21.37 L375.32,27.31 L368.48,27.31 Z" fill="#fff" stroke="#000" stroke-width="0.9"/><path d="M391,32.29 L394.42,38.23 L387.58,38.23 Z" fill="#fff" stroke="#000" stroke-width="0.9"/><path d="M410.1,57.17 L413.52,63.11 L406.68,63.11 Z" fill="#fff" stroke="#000" stroke-width="0.9"/><path d="M429.2,106.06 L432.62,112 L425.78,112 Z" fill="#fff" stroke="#000" stroke-width="0.9"/><path d="M448.3,57.17 L451.72,63.11 L444.88,63.11 Z" fill="#fff" stroke="#000" stroke-width="0.9"/><path d="M467.4,32.29 L470.82,38.23 L463.98,38.23 Z" fill="#fff" stroke="#000" stroke-width="0.9"/><path d="M486.5,21.37 L489.92,27.31 L483.08,27.31 Z" fill="#fff" stroke="#000" stroke-width="0.9"/><path d="M505.6,34.47 L509.02,40.41 L502.18,40.41 Z" fill="#fff" stroke="#000" stroke-width="0.9"/><path d="M524.7,29.23 L528.12,35.17 L521.28,35.17 Z" fill="#fff" stroke="#000" stroke-width="0.9"/><path d="M333.7,37.13 L337,31.73 L330.4,31.73 Z" fill="#000"/><path d="M352.8,40.1 L356.1,34.7 L349.5,34.7 Z" fill="#000"/><path d="M371.9,25.08 L375.2,19.68 L368.6,19.68 Z" fill="#000"/><path d="M391,46.47 L394.3,41.07 L387.7,41.07 Z" fill="#000"/><path d="M410.1,83.57 L413.4,78.17 L406.8,78.17 Z" fill="#000"/><path d="M429.2,149.05 L432.5,143.65 L425.9,143.65 Z" fill="#000"/><path d="M448.3,83.57 L451.6,78.17 L445,78.17 Z" fill="#000"/><path d="M467.4,46.47 L470.7,41.07 L464.1,41.07 Z" fill="#000"/><path d="M486.5,25.08 L489.8,19.68 L483.2,19.68 Z" fill="#000"/><path d="M505.6,40.1 L508.9,34.7 L502.3,34.7 Z" fill="#000"/><path d="M524.7,37.13 L528,31.73 L521.4,31.73 Z" fill="#000"/><path d="M330.1,33.27 L336.04,29.85 L336.04,36.69 Z" fill="#fff" stroke="#000" stroke-width="0.9"/><path d="M349.2,37.02 L355.14,33.6 L355.14,40.44 Z" fill="#fff" stroke="#000" stroke-width="0.9"/><path d="M368.3,24.1 L374.24,20.68 L374.24,27.52 Z" fill="#fff" stroke="#000" stroke-width="0.9"/><path d="M387.4,37.2 L393.34,33.78 L393.34,40.62 Z" fill="#fff" stroke="#000" stroke-width="0.9"/><path d="M406.5,64.26 L412.44,60.84 L412.44,67.68 Z" fill="#fff" stroke="#000" stroke-width="0.9"/><path d="M425.6,113.15 L431.54,109.73 L431.54,116.57 Z" fill="#fff" stroke="#000" stroke-width="0.9"/><path d="M444.7,64.26 L450.64,60.84 L450.64,67.68 Z" fill="#fff" stroke="#000" stroke-width="0.9"/><path d="M463.8,37.2 L469.74,33.78 L469.74,40.62 Z" fill="#fff" stroke="#000" stroke-width="0.9"/><path d="M482.9,24.1 L488.84,20.68 L488.84,27.52 Z" fill="#fff" stroke="#000" stroke-width="0.9"/><path d="M502,37.02 L507.94,33.6 L507.94,40.44 Z" fill="#fff" stroke="#000" stroke-width="0.9"/><path d="M521.1,33.27 L527.04,29.85 L527.04,36.69 Z" fill="#fff" stroke="#000" stroke-width="0.9"/><path d="M333.7,30.4 L334.57,32.5 L336.84,32.69 L335.11,34.16 L335.64,36.37 L333.7,35.19 L331.76,36.37 L332.29,34.16 L330.56,32.69 L332.83,32.5 Z" fill="#fff" stroke="#000" stroke-width="0.9"/><path d="M352.8,32.59 L353.67,34.69 L355.94,34.87 L354.21,36.35 L354.74,38.56 L352.8,37.37 L350.86,38.56 L351.39,36.35 L349.66,34.87 L351.93,34.69 Z" fill="#fff" stroke="#000" stroke-width="0.9"/><path d="M371.9,19.93 L372.77,22.03 L375.04,22.21 L373.31,23.69 L373.84,25.9 L371.9,24.71 L369.96,25.9 L370.49,23.69 L368.76,22.21 L371.03,22.03 Z" fill="#fff" stroke="#000" stroke-width="0.9"/><path d="M391,35.21 L391.87,37.31 L394.14,37.49 L392.41,38.97 L392.94,41.18 L391,39.99 L389.06,41.18 L389.59,38.97 L387.86,37.49 L390.13,37.31 Z" fill="#fff" stroke="#000" stroke-width="0.9"/><path d="M410.1,62.71 L410.97,64.8 L413.24,64.99 L411.51,66.46 L412.04,68.68 L410.1,67.49 L408.16,68.68 L408.69,66.46 L406.96,64.99 L409.23,64.8 Z" fill="#fff" stroke="#000" stroke-width="0.9"/><path d="M429.2,113.34 L430.07,115.44 L432.34,115.62 L430.61,117.1 L431.14,119.31 L429.2,118.12 L427.26,119.31 L427.79,117.1 L426.06,115.62 L428.33,115.44 Z" fill="#fff" stroke="#000" stroke-width="0.9"/><path d="M448.3,62.71 L449.17,64.8 L451.44,64.99 L449.71,66.46 L450.24,68.68 L448.3,67.49 L446.36,68.68 L446.89,66.46 L445.16,64.99 L447.43,64.8 Z" fill="#fff" stroke="#000" stroke-width="0.9"/><path d="M467.4,35.21 L468.27,37.31 L470.54,37.49 L468.81,38.97 L469.34,41.18 L467.4,39.99 L465.46,41.18 L465.99,38.97 L464.26,37.49 L466.53,37.31 Z" fill="#fff" stroke="#000" stroke-width="0.9"/><path d="M486.5,19.93 L487.37,22.03 L489.64,22.21 L487.91,23.69 L488.44,25.9 L486.5,24.71 L484.56,25.9 L485.09,23.69 L483.36,22.21 L485.63,22.03 Z" fill="#fff" stroke="#000" stroke-width="0.9"/><path d="M505.6,32.59 L506.47,34.69 L508.74,34.87 L507.01,36.35 L507.54,38.56 L505.6,37.37 L503.66,38.56 L504.19,36.35 L502.46,34.87 L504.73,34.69 Z" fill="#fff" stroke="#000" stroke-width="0.9"/><path d="M524.7,30.4 L525.57,32.5 L527.84,32.69 L526.11,34.16 L526.64,36.37 L524.7,35.19 L522.76,36.37 L523.29,34.16 L521.56,32.69 L523.83,32.5 Z" fill="#fff" stroke="#000" stroke-width="0.9"/><path d="M333.7,29.13 L337.4,32.83 L333.7,36.53 L330,32.83 Z" fill="#000"/><path d="M352.8,30 L356.5,33.7 L352.8,37.41 L349.1,33.7 Z" fill="#000"/><path d="M371.9,16.04 L375.6,19.74 L371.9,23.44 L368.2,19.74 Z" fill="#000"/><path d="M391,43.1 L394.7,46.8 L391,50.5 L387.3,46.8 Z" fill="#000"/><path d="M410.1,91.55 L413.8,95.25 L410.1,98.95 L406.4,95.25 Z" fill="#000"/><path d="M429.2,153.97 L432.9,157.67 L429.2,161.37 L425.5,157.67 Z" fill="#000"/><path d="M448.3,91.55 L452,95.25 L448.3,98.95 L444.6,95.25 Z" fill="#000"/><path d="M467.4,43.1 L471.1,46.8 L467.4,50.5 L463.7,46.8 Z" fill="#000"/><path d="M486.5,16.04 L490.2,19.74 L486.5,23.44 L482.8,19.74 Z" fill="#000"/><path d="M505.6,30 L509.3,33.7 L505.6,37.41 L501.9,33.7 Z" fill="#000"/><path d="M524.7,29.13 L528.4,32.83 L524.7,36.53 L521,32.83 Z" fill="#000"/><rect x="330.8" y="31.24" width="5.8" height="5.8" fill="#000"/><rect x="349.9" y="31.68" width="5.8" height="5.8" fill="#000"/><rect x="369" y="19.46" width="5.8" height="5.8" fill="#000"/><rect x="388.1" y="36.92" width="5.8" height="5.8" fill="#000"/><rect x="407.2" y="68.34" width="5.8" height="5.8" fill="#000"/><rect x="426.3" y="116.36" width="5.8" height="5.8" fill="#000"/><rect x="445.4" y="68.34" width="5.8" height="5.8" fill="#000"/><rect x="464.5" y="36.92" width="5.8" height="5.8" fill="#000"/><rect x="483.6" y="19.46" width="5.8" height="5.8" fill="#000"/><rect x="502.7" y="31.68" width="5.8" height="5.8" fill="#000"/><rect x="521.8" y="31.24" width="5.8" height="5.8" fill="#000"/><path d="M314.6,43.3 L318.1,46.8 L314.6,50.3 L311.1,46.8 Z" fill="#fff" stroke="#000" stroke-width="0.9"/><path d="M333.7,34.57 L337.2,38.07 L333.7,41.57 L330.2,38.07 Z" fill="#fff" stroke="#000" stroke-width="0.9"/><path d="M352.8,24.09 L356.3,27.59 L352.8,31.09 L349.3,27.59 Z" fill="#fff" stroke="#000" stroke-width="0.9"/><path d="M371.9,17.11 L375.4,20.61 L371.9,24.11 L368.4,20.61 Z" fill="#fff" stroke="#000" stroke-width="0.9"/><path d="M391,40.24 L394.5,43.74 L391,47.24 L387.5,43.74 Z" fill="#fff" stroke="#000" stroke-width="0.9"/><path d="M410.1,84.33 L413.6,87.83 L410.1,91.33 L406.6,87.83 Z" fill="#fff" stroke="#000" stroke-width="0.9"/><path d="M429.2,146.31 L432.7,149.81 L429.2,153.31 L425.7,149.81 Z" fill="#fff" stroke="#000" stroke-width="0.9"/><path d="M448.3,84.33 L451.8,87.83 L448.3,91.33 L444.8,87.83 Z" fill="#fff" stroke="#000" stroke-width="0.9"/><path d="M467.4,40.24 L470.9,43.74 L467.4,47.24 L463.9,43.74 Z" fill="#fff" stroke="#000" stroke-width="0.9"/><path d="M486.5,17.11 L490,20.61 L486.5,24.11 L483,20.61 Z" fill="#fff" stroke="#000" stroke-width="0.9"/><path d="M505.6,24.09 L509.1,27.59 L505.6,31.09 L502.1,27.59 Z" fill="#fff" stroke="#000" stroke-width="0.9"/><path d="M524.7,34.57 L528.2,38.07 L524.7,41.57 L521.2,38.07 Z" fill="#fff" stroke="#000" stroke-width="0.9"/><path d="M543.8,43.3 L547.3,46.8 L543.8,50.3 L540.3,46.8 Z" fill="#fff" stroke="#000" stroke-width="0.9"/>
</g>
<text transform="translate(424.2,53.9) scale(1,1.12)" font-size="9.8" text-anchor="start">&#960;</text>
<text transform="translate(431,58.9) scale(1,1.12)" font-size="7.0" text-anchor="start">z</text>
<line x1="328.3" y1="105.5" x2="348.4" y2="105.5" stroke="#707070" stroke-width="0.85"/><path d="M338.35,102.08 L341.6,107.72 L335.1,107.72 Z" fill="#fff" stroke="#000" stroke-width="0.9"/><text transform="translate(351.8,109.5) scale(1,1.08)" font-size="9.65" text-anchor="start">B3++G</text>
<line x1="328.3" y1="117.3" x2="348.4" y2="117.3" stroke="#707070" stroke-width="0.85"/><path d="M334.93,117.3 L340.57,114.05 L340.57,120.55 Z" fill="#fff" stroke="#000" stroke-width="0.9"/><text transform="translate(351.8,121.3) scale(1,1.08)" font-size="9.65" text-anchor="start">MP+G</text>
<line x1="328.3" y1="129.3" x2="348.4" y2="129.3" stroke="#707070" stroke-width="0.85"/><path d="M338.35,126.17 L339.18,128.16 L341.33,128.33 L339.69,129.74 L340.19,131.84 L338.35,130.71 L336.51,131.84 L337.01,129.74 L335.37,128.33 L337.52,128.16 Z" fill="#fff" stroke="#000" stroke-width="0.9"/><text transform="translate(351.8,133.3) scale(1,1.08)" font-size="9.65" text-anchor="start">MP++G</text>
<line x1="328.3" y1="141.3" x2="348.4" y2="141.3" stroke="#222" stroke-width="0.85"/><rect x="335.6" y="138.55" width="5.51" height="5.51" fill="#000"/><text transform="translate(351.8,145.3) scale(1,1.08)" font-size="9.65" text-anchor="start">MP2+G</text>
<line x1="328.3" y1="153.3" x2="348.4" y2="153.3" stroke="#707070" stroke-width="0.85"/><path d="M338.35,149.98 L341.68,153.3 L338.35,156.62 L335.03,153.3 Z" fill="#fff" stroke="#000" stroke-width="0.9"/><text transform="translate(351.8,157.3) scale(1,1.08)" font-size="9.65" text-anchor="start">MP2++G</text>
<line x1="471.1" y1="111.4" x2="491.9" y2="111.4" stroke="#707070" stroke-width="0.85"/><rect x="479.03" y="108.93" width="4.94" height="4.94" fill="#fff" stroke="#000" stroke-width="0.9"/><text transform="translate(495.2,115.4) scale(1,1.08)" font-size="9.65" text-anchor="start">B3G</text>
<line x1="471.1" y1="124" x2="491.9" y2="124" stroke="#707070" stroke-width="0.85"/><circle cx="481.5" cy="124" r="2.85" fill="#fff" stroke="#000" stroke-width="0.9"/><text transform="translate(495.2,128) scale(1,1.08)" font-size="9.65" text-anchor="start">B3+G</text>
<line x1="471.1" y1="135.6" x2="491.9" y2="135.6" stroke="#222" stroke-width="0.85"/><path d="M481.5,139.02 L484.63,133.89 L478.37,133.89 Z" fill="#000"/><text transform="translate(495.2,139.6) scale(1,1.08)" font-size="9.65" text-anchor="start">MPG</text>
<line x1="471.1" y1="147.7" x2="491.9" y2="147.7" stroke="#222" stroke-width="0.85"/><path d="M481.5,144.19 L485.01,147.7 L481.5,151.21 L477.99,147.7 Z" fill="#000"/><text transform="translate(495.2,151.7) scale(1,1.08)" font-size="9.65" text-anchor="start">MP2G</text>
<text x="0" y="0" font-size="9.9" text-anchor="middle" transform="translate(287.9,97.5) scale(1,0.985) rotate(-90)">Relative Energy (kcal/mol)</text>
<text transform="translate(429.2,206.7) scale(1,1.12)" font-size="9.5" text-anchor="middle">Angle (Degree)</text>
<path d="M36.27,221 H272.33 M36.27,395.3 H272.33" fill="none" stroke="#646464" stroke-width="1.95"/><path d="M37,220.03 V396.28 M271.6,220.03 V396.28" fill="none" stroke="#444" stroke-width="1.45"/><line x1="37" y1="395.3" x2="37" y2="398.5" stroke="#5a5a5a" stroke-width="1.1"/><line x1="56.55" y1="395.3" x2="56.55" y2="397.5" stroke="#5a5a5a" stroke-width="1.1"/><line x1="76.1" y1="395.3" x2="76.1" y2="398.5" stroke="#5a5a5a" stroke-width="1.1"/><line x1="95.65" y1="395.3" x2="95.65" y2="397.5" stroke="#5a5a5a" stroke-width="1.1"/><line x1="115.2" y1="395.3" x2="115.2" y2="398.5" stroke="#5a5a5a" stroke-width="1.1"/><line x1="134.75" y1="395.3" x2="134.75" y2="397.5" stroke="#5a5a5a" stroke-width="1.1"/><line x1="154.3" y1="395.3" x2="154.3" y2="398.5" stroke="#5a5a5a" stroke-width="1.1"/><line x1="173.85" y1="395.3" x2="173.85" y2="397.5" stroke="#5a5a5a" stroke-width="1.1"/><line x1="193.4" y1="395.3" x2="193.4" y2="398.5" stroke="#5a5a5a" stroke-width="1.1"/><line x1="212.95" y1="395.3" x2="212.95" y2="397.5" stroke="#5a5a5a" stroke-width="1.1"/><line x1="232.5" y1="395.3" x2="232.5" y2="398.5" stroke="#5a5a5a" stroke-width="1.1"/><line x1="252.05" y1="395.3" x2="252.05" y2="397.5" stroke="#5a5a5a" stroke-width="1.1"/><line x1="271.6" y1="395.3" x2="271.6" y2="398.5" stroke="#5a5a5a" stroke-width="1.1"/><line x1="60.46" y1="221" x2="60.46" y2="223" stroke="#5a5a5a" stroke-width="1"/><line x1="83.92" y1="221" x2="83.92" y2="224" stroke="#5a5a5a" stroke-width="1"/><line x1="107.38" y1="221" x2="107.38" y2="223" stroke="#5a5a5a" stroke-width="1"/><line x1="130.84" y1="221" x2="130.84" y2="224" stroke="#5a5a5a" stroke-width="1"/><line x1="154.3" y1="221" x2="154.3" y2="223" stroke="#5a5a5a" stroke-width="1"/><line x1="177.76" y1="221" x2="177.76" y2="224" stroke="#5a5a5a" stroke-width="1"/><line x1="201.22" y1="221" x2="201.22" y2="223" stroke="#5a5a5a" stroke-width="1"/><line x1="224.68" y1="221" x2="224.68" y2="224" stroke="#5a5a5a" stroke-width="1"/><line x1="248.14" y1="221" x2="248.14" y2="223" stroke="#5a5a5a" stroke-width="1"/><line x1="271.6" y1="238.43" x2="269.2" y2="238.43" stroke="#5a5a5a" stroke-width="1"/><line x1="271.6" y1="255.86" x2="269.2" y2="255.86" stroke="#5a5a5a" stroke-width="1"/><line x1="271.6" y1="273.29" x2="269.2" y2="273.29" stroke="#5a5a5a" stroke-width="1"/><line x1="271.6" y1="290.72" x2="269.2" y2="290.72" stroke="#5a5a5a" stroke-width="1"/><line x1="271.6" y1="308.15" x2="269.2" y2="308.15" stroke="#5a5a5a" stroke-width="1"/><line x1="271.6" y1="325.58" x2="269.2" y2="325.58" stroke="#5a5a5a" stroke-width="1"/><line x1="271.6" y1="343.01" x2="269.2" y2="343.01" stroke="#5a5a5a" stroke-width="1"/><line x1="271.6" y1="360.44" x2="269.2" y2="360.44" stroke="#5a5a5a" stroke-width="1"/><line x1="271.6" y1="377.87" x2="269.2" y2="377.87" stroke="#5a5a5a" stroke-width="1"/><line x1="37" y1="234.82" x2="33.8" y2="234.82" stroke="#333" stroke-width="1.25"/><line x1="37" y1="290.5" x2="33.8" y2="290.5" stroke="#333" stroke-width="1.25"/><line x1="37" y1="346.18" x2="33.8" y2="346.18" stroke="#333" stroke-width="1.25"/><line x1="37" y1="262.66" x2="34.8" y2="262.66" stroke="#3a3a3a" stroke-width="1.2"/><line x1="37" y1="318.34" x2="34.8" y2="318.34" stroke="#3a3a3a" stroke-width="1.2"/><line x1="37" y1="374.02" x2="34.8" y2="374.02" stroke="#3a3a3a" stroke-width="1.2"/><text transform="translate(31.2,237.32) scale(1,1.1)" font-size="9.0" text-anchor="end">0.4</text><text transform="translate(31.2,293) scale(1,1.1)" font-size="9.0" text-anchor="end">0.0</text><text transform="translate(31.2,348.68) scale(1,1.1)" font-size="9.0" text-anchor="end">-0.4</text><text transform="translate(37,408.1) scale(1,1.06)" font-size="9.3" text-anchor="middle">0</text><text transform="translate(76.1,408.1) scale(1,1.06)" font-size="9.3" text-anchor="middle">20</text><text transform="translate(115.2,408.1) scale(1,1.06)" font-size="9.3" text-anchor="middle">40</text><text transform="translate(154.3,408.1) scale(1,1.06)" font-size="9.3" text-anchor="middle">60</text><text transform="translate(193.4,408.1) scale(1,1.06)" font-size="9.3" text-anchor="middle">80</text><text transform="translate(232.5,408.1) scale(1,1.06)" font-size="9.3" text-anchor="middle">100</text><text transform="translate(271.6,408.1) scale(1,1.06)" font-size="9.3" text-anchor="middle">120</text>
<g clip-path="url(#c3)">
<path d="M37,290.5 C43.52,307.22 50.03,323.94 56.55,316.95 C63.07,309.96 69.58,279.26 76.1,284.24 C82.62,289.22 89.13,329.88 95.65,335.04 C102.17,340.21 108.68,309.88 115.2,311.38 C121.72,312.88 128.23,346.21 134.75,346.18 C141.27,346.15 147.78,312.77 154.3,312.77 C160.82,312.77 167.33,346.15 173.85,346.18 C180.37,346.21 186.88,312.88 193.4,311.38 C199.92,309.88 206.43,340.21 212.95,335.04 C219.47,329.88 225.98,289.22 232.5,284.24 C239.02,279.26 245.53,309.96 252.05,316.95 C258.57,323.94 265.08,307.22 271.6,290.5" fill="none" stroke="#777" stroke-width="0.8"/><path d="M37,290.5 C43.52,311.13 50.03,331.77 56.55,323.21 C63.07,314.66 69.58,276.92 76.1,276.58 C82.62,276.24 89.13,313.32 95.65,315.56 C102.17,317.8 108.68,285.2 115.2,284.93 C121.72,284.66 128.23,316.71 134.75,314.86 C141.27,313.01 147.78,277.28 154.3,277.28 C160.82,277.28 167.33,313.01 173.85,314.86 C180.37,316.71 186.88,284.66 193.4,284.93 C199.92,285.2 206.43,317.8 212.95,315.56 C219.47,313.32 225.98,276.24 232.5,276.58 C239.02,276.92 245.53,314.66 252.05,323.21 C258.57,331.77 265.08,311.13 271.6,290.5" fill="none" stroke="#666" stroke-width="0.8"/><path d="M37,290.5 C43.52,310.19 50.03,329.87 56.55,321.82 C63.07,313.77 69.58,277.97 76.1,278.25 C82.62,278.53 89.13,314.89 95.65,316.95 C102.17,319 108.68,286.75 115.2,286.6 C121.72,286.45 128.23,318.41 134.75,316.53 C141.27,314.65 147.78,278.95 154.3,278.95 C160.82,278.95 167.33,314.65 173.85,316.53 C180.37,318.41 186.88,286.45 193.4,286.6 C199.92,286.75 206.43,319 212.95,316.95 C219.47,314.89 225.98,278.53 232.5,278.25 C239.02,277.97 245.53,313.77 252.05,321.82 C258.57,329.87 265.08,310.19 271.6,290.5" fill="none" stroke="#444" stroke-width="0.8"/><path d="M37,290.5 C43.52,309.5 50.03,328.49 56.55,319.73 C63.07,310.97 69.58,274.45 76.1,274.49 C82.62,274.53 89.13,311.12 95.65,313.47 C102.17,315.81 108.68,283.91 115.2,283.26 C121.72,282.62 128.23,313.24 134.75,311.38 C141.27,309.52 147.78,275.19 154.3,275.19 C160.82,275.19 167.33,309.52 173.85,311.38 C180.37,313.24 186.88,282.62 193.4,283.26 C199.92,283.91 206.43,315.81 212.95,313.47 C219.47,311.12 225.98,274.53 232.5,274.49 C239.02,274.45 245.53,310.97 252.05,319.73 C258.57,328.49 265.08,309.5 271.6,290.5" fill="none" stroke="#111" stroke-width="0.8"/><path d="M37,290.5 C43.52,309.56 50.03,328.62 56.55,318.34 C63.07,308.06 69.58,268.44 76.1,264.05 C82.62,259.66 89.13,290.51 95.65,289.8 C102.17,289.1 108.68,256.86 115.2,254.31 C121.72,251.76 128.23,278.9 134.75,275.19 C141.27,271.48 147.78,236.91 154.3,236.91 C160.82,236.91 167.33,271.48 173.85,275.19 C180.37,278.9 186.88,251.76 193.4,254.31 C199.92,256.86 206.43,289.1 212.95,289.8 C219.47,290.51 225.98,259.66 232.5,264.05 C239.02,268.44 245.53,308.06 252.05,318.34 C258.57,328.62 265.08,309.56 271.6,290.5" fill="none" stroke="#555" stroke-width="0.8"/><path d="M37,290.5 C43.52,310.02 50.03,329.54 56.55,319.73 C63.07,309.93 69.58,270.8 76.1,266.56 C82.62,262.32 89.13,292.96 95.65,292.17 C102.17,291.38 108.68,259.15 115.2,257.09 C121.72,255.03 128.23,283.13 134.75,279.64 C141.27,276.16 147.78,241.08 154.3,241.08 C160.82,241.08 167.33,276.16 173.85,279.64 C180.37,283.13 186.88,255.03 193.4,257.09 C199.92,259.15 206.43,291.38 212.95,292.17 C219.47,292.96 225.98,262.32 232.5,266.56 C239.02,270.8 245.53,309.93 252.05,319.73 C258.57,329.54 265.08,310.02 271.6,290.5" fill="none" stroke="#555" stroke-width="0.8"/><path d="M37,290.5 C43.52,300.06 50.03,309.61 56.55,312.49 C63.07,315.38 69.58,311.59 76.1,313.47 C82.62,315.35 89.13,322.89 95.65,327.67 C102.17,332.44 108.68,334.44 115.2,335.88 C121.72,337.32 128.23,338.19 134.75,338.66 C141.27,339.14 147.78,339.22 154.3,339.22 C160.82,339.22 167.33,339.14 173.85,338.66 C180.37,338.19 186.88,337.32 193.4,335.88 C199.92,334.44 206.43,332.44 212.95,327.67 C219.47,322.89 225.98,315.35 232.5,313.47 C239.02,311.59 245.53,315.38 252.05,312.49 C258.57,309.61 265.08,300.06 271.6,290.5" fill="none" stroke="#555" stroke-width="0.8"/><path d="M37,290.5 C43.52,291.48 50.03,292.45 56.55,293.98 C63.07,295.51 69.58,297.59 76.1,300.94 C82.62,304.29 89.13,308.9 95.65,312.49 C102.17,316.09 108.68,318.67 115.2,321.4 C121.72,324.14 128.23,327.03 134.75,328.36 C141.27,329.7 147.78,329.48 154.3,329.48 C160.82,329.48 167.33,329.7 173.85,328.36 C180.37,327.03 186.88,324.14 193.4,321.4 C199.92,318.67 206.43,316.09 212.95,312.49 C219.47,308.9 225.98,304.29 232.5,300.94 C239.02,297.59 245.53,295.51 252.05,293.98 C258.57,292.45 265.08,291.48 271.6,290.5" fill="none" stroke="#555" stroke-width="0.8"/><path d="M37,290.5 C43.52,303.83 50.03,317.17 56.55,322.24 C63.07,327.31 69.58,324.11 76.1,327.39 C82.62,330.67 89.13,340.43 95.65,346.88 C102.17,353.32 108.68,356.44 115.2,358.71 C121.72,360.98 128.23,362.41 134.75,363.58 C141.27,364.75 147.78,365.67 154.3,365.67 C160.82,365.67 167.33,364.75 173.85,363.58 C180.37,362.41 186.88,360.98 193.4,358.71 C199.92,356.44 206.43,353.32 212.95,346.88 C219.47,340.43 225.98,330.67 232.5,327.39 C239.02,324.11 245.53,327.31 252.05,322.24 C258.57,317.17 265.08,303.83 271.6,290.5" fill="none" stroke="#222" stroke-width="0.8"/><rect x="53.95" y="314.35" width="5.2" height="5.2" fill="#fff" stroke="#000" stroke-width="0.9"/><rect x="73.5" y="281.64" width="5.2" height="5.2" fill="#fff" stroke="#000" stroke-width="0.9"/><rect x="93.05" y="332.44" width="5.2" height="5.2" fill="#fff" stroke="#000" stroke-width="0.9"/><rect x="112.6" y="308.78" width="5.2" height="5.2" fill="#fff" stroke="#000" stroke-width="0.9"/><rect x="132.15" y="343.58" width="5.2" height="5.2" fill="#fff" stroke="#000" stroke-width="0.9"/><rect x="151.7" y="310.17" width="5.2" height="5.2" fill="#fff" stroke="#000" stroke-width="0.9"/><rect x="171.25" y="343.58" width="5.2" height="5.2" fill="#fff" stroke="#000" stroke-width="0.9"/><rect x="190.8" y="308.78" width="5.2" height="5.2" fill="#fff" stroke="#000" stroke-width="0.9"/><rect x="210.35" y="332.44" width="5.2" height="5.2" fill="#fff" stroke="#000" stroke-width="0.9"/><rect x="229.9" y="281.64" width="5.2" height="5.2" fill="#fff" stroke="#000" stroke-width="0.9"/><rect x="249.45" y="314.35" width="5.2" height="5.2" fill="#fff" stroke="#000" stroke-width="0.9"/><circle cx="56.55" cy="323.21" r="3" fill="#fff" stroke="#000" stroke-width="0.9"/><circle cx="76.1" cy="276.58" r="3" fill="#fff" stroke="#000" stroke-width="0.9"/><circle cx="95.65" cy="315.56" r="3" fill="#fff" stroke="#000" stroke-width="0.9"/><circle cx="115.2" cy="284.93" r="3" fill="#fff" stroke="#000" stroke-width="0.9"/><circle cx="134.75" cy="314.86" r="3" fill="#fff" stroke="#000" stroke-width="0.9"/><circle cx="154.3" cy="277.28" r="3" fill="#fff" stroke="#000" stroke-width="0.9"/><circle cx="173.85" cy="314.86" r="3" fill="#fff" stroke="#000" stroke-width="0.9"/><circle cx="193.4" cy="284.93" r="3" fill="#fff" stroke="#000" stroke-width="0.9"/><circle cx="212.95" cy="315.56" r="3" fill="#fff" stroke="#000" stroke-width="0.9"/><circle cx="232.5" cy="276.58" r="3" fill="#fff" stroke="#000" stroke-width="0.9"/><circle cx="252.05" cy="323.21" r="3" fill="#fff" stroke="#000" stroke-width="0.9"/><circle cx="271.6" cy="290.5" r="3" fill="#fff" stroke="#000" stroke-width="0.9"/><path d="M56.55,318.22 L59.97,324.16 L53.13,324.16 Z" fill="#fff" stroke="#000" stroke-width="0.9"/><path d="M76.1,274.65 L79.52,280.59 L72.68,280.59 Z" fill="#fff" stroke="#000" stroke-width="0.9"/><path d="M95.65,313.35 L99.07,319.29 L92.23,319.29 Z" fill="#fff" stroke="#000" stroke-width="0.9"/><path d="M115.2,283 L118.62,288.94 L111.78,288.94 Z" fill="#fff" stroke="#000" stroke-width="0.9"/><path d="M134.75,312.93 L138.17,318.87 L131.33,318.87 Z" fill="#fff" stroke="#000" stroke-width="0.9"/><path d="M154.3,275.35 L157.72,281.29 L150.88,281.29 Z" fill="#fff" stroke="#000" stroke-width="0.9"/><path d="M173.85,312.93 L177.27,318.87 L170.43,318.87 Z" fill="#fff" stroke="#000" stroke-width="0.9"/><path d="M193.4,283 L196.82,288.94 L189.98,288.94 Z" fill="#fff" stroke="#000" stroke-width="0.9"/><path d="M212.95,313.35 L216.37,319.29 L209.53,319.29 Z" fill="#fff" stroke="#000" stroke-width="0.9"/><path d="M232.5,274.65 L235.92,280.59 L229.08,280.59 Z" fill="#fff" stroke="#000" stroke-width="0.9"/><path d="M252.05,318.22 L255.47,324.16 L248.63,324.16 Z" fill="#fff" stroke="#000" stroke-width="0.9"/><path d="M56.55,323.33 L59.85,317.93 L53.25,317.93 Z" fill="#000"/><path d="M76.1,278.09 L79.4,272.69 L72.8,272.69 Z" fill="#000"/><path d="M95.65,317.07 L98.95,311.67 L92.35,311.67 Z" fill="#000"/><path d="M115.2,286.86 L118.5,281.46 L111.9,281.46 Z" fill="#000"/><path d="M134.75,314.98 L138.05,309.58 L131.45,309.58 Z" fill="#000"/><path d="M154.3,278.79 L157.6,273.39 L151,273.39 Z" fill="#000"/><path d="M173.85,314.98 L177.15,309.58 L170.55,309.58 Z" fill="#000"/><path d="M193.4,286.86 L196.7,281.46 L190.1,281.46 Z" fill="#000"/><path d="M212.95,317.07 L216.25,311.67 L209.65,311.67 Z" fill="#000"/><path d="M232.5,278.09 L235.8,272.69 L229.2,272.69 Z" fill="#000"/><path d="M252.05,323.33 L255.35,317.93 L248.75,317.93 Z" fill="#000"/><path d="M52.95,318.34 L58.89,314.92 L58.89,321.76 Z" fill="#fff" stroke="#000" stroke-width="0.9"/><path d="M72.5,264.05 L78.44,260.63 L78.44,267.47 Z" fill="#fff" stroke="#000" stroke-width="0.9"/><path d="M92.05,289.8 L97.99,286.38 L97.99,293.22 Z" fill="#fff" stroke="#000" stroke-width="0.9"/><path d="M111.6,254.31 L117.54,250.89 L117.54,257.73 Z" fill="#fff" stroke="#000" stroke-width="0.9"/><path d="M131.15,275.19 L137.09,271.77 L137.09,278.61 Z" fill="#fff" stroke="#000" stroke-width="0.9"/><path d="M150.7,236.91 L156.64,233.49 L156.64,240.33 Z" fill="#fff" stroke="#000" stroke-width="0.9"/><path d="M170.25,275.19 L176.19,271.77 L176.19,278.61 Z" fill="#fff" stroke="#000" stroke-width="0.9"/><path d="M189.8,254.31 L195.74,250.89 L195.74,257.73 Z" fill="#fff" stroke="#000" stroke-width="0.9"/><path d="M209.35,289.8 L215.29,286.38 L215.29,293.22 Z" fill="#fff" stroke="#000" stroke-width="0.9"/><path d="M228.9,264.05 L234.84,260.63 L234.84,267.47 Z" fill="#fff" stroke="#000" stroke-width="0.9"/><path d="M248.45,318.34 L254.39,314.92 L254.39,321.76 Z" fill="#fff" stroke="#000" stroke-width="0.9"/><path d="M56.55,316.43 L57.42,318.53 L59.69,318.71 L57.96,320.19 L58.49,322.4 L56.55,321.22 L54.61,322.4 L55.14,320.19 L53.41,318.71 L55.68,318.53 Z" fill="#fff" stroke="#000" stroke-width="0.9"/><path d="M76.1,263.26 L76.97,265.36 L79.24,265.54 L77.51,267.02 L78.04,269.23 L76.1,268.04 L74.16,269.23 L74.69,267.02 L72.96,265.54 L75.23,265.36 Z" fill="#fff" stroke="#000" stroke-width="0.9"/><path d="M95.65,288.87 L96.52,290.97 L98.79,291.15 L97.06,292.63 L97.59,294.84 L95.65,293.66 L93.71,294.84 L94.24,292.63 L92.51,291.15 L94.78,290.97 Z" fill="#fff" stroke="#000" stroke-width="0.9"/><path d="M115.2,253.79 L116.07,255.89 L118.34,256.07 L116.61,257.55 L117.14,259.76 L115.2,258.58 L113.26,259.76 L113.79,257.55 L112.06,256.07 L114.33,255.89 Z" fill="#fff" stroke="#000" stroke-width="0.9"/><path d="M134.75,276.34 L135.62,278.44 L137.89,278.62 L136.16,280.1 L136.69,282.31 L134.75,281.13 L132.81,282.31 L133.34,280.1 L131.61,278.62 L133.88,278.44 Z" fill="#fff" stroke="#000" stroke-width="0.9"/><path d="M154.3,237.78 L155.17,239.88 L157.44,240.06 L155.71,241.54 L156.24,243.75 L154.3,242.57 L152.36,243.75 L152.89,241.54 L151.16,240.06 L153.43,239.88 Z" fill="#fff" stroke="#000" stroke-width="0.9"/><path d="M173.85,276.34 L174.72,278.44 L176.99,278.62 L175.26,280.1 L175.79,282.31 L173.85,281.13 L171.91,282.31 L172.44,280.1 L170.71,278.62 L172.98,278.44 Z" fill="#fff" stroke="#000" stroke-width="0.9"/><path d="M193.4,253.79 L194.27,255.89 L196.54,256.07 L194.81,257.55 L195.34,259.76 L193.4,258.58 L191.46,259.76 L191.99,257.55 L190.26,256.07 L192.53,255.89 Z" fill="#fff" stroke="#000" stroke-width="0.9"/><path d="M212.95,288.87 L213.82,290.97 L216.09,291.15 L214.36,292.63 L214.89,294.84 L212.95,293.66 L211.01,294.84 L211.54,292.63 L209.81,291.15 L212.08,290.97 Z" fill="#fff" stroke="#000" stroke-width="0.9"/><path d="M232.5,263.26 L233.37,265.36 L235.64,265.54 L233.91,267.02 L234.44,269.23 L232.5,268.04 L230.56,269.23 L231.09,267.02 L229.36,265.54 L231.63,265.36 Z" fill="#fff" stroke="#000" stroke-width="0.9"/><path d="M252.05,316.43 L252.92,318.53 L255.19,318.71 L253.46,320.19 L253.99,322.4 L252.05,321.22 L250.11,322.4 L250.64,320.19 L248.91,318.71 L251.18,318.53 Z" fill="#fff" stroke="#000" stroke-width="0.9"/><path d="M56.55,318.54 L60.25,322.24 L56.55,325.94 L52.85,322.24 Z" fill="#000"/><path d="M76.1,323.69 L79.8,327.39 L76.1,331.09 L72.4,327.39 Z" fill="#000"/><path d="M95.65,343.18 L99.35,346.88 L95.65,350.58 L91.95,346.88 Z" fill="#000"/><path d="M115.2,355.01 L118.9,358.71 L115.2,362.41 L111.5,358.71 Z" fill="#000"/><path d="M134.75,359.88 L138.45,363.58 L134.75,367.28 L131.05,363.58 Z" fill="#000"/><path d="M154.3,361.97 L158,365.67 L154.3,369.37 L150.6,365.67 Z" fill="#000"/><path d="M173.85,359.88 L177.55,363.58 L173.85,367.28 L170.15,363.58 Z" fill="#000"/><path d="M193.4,355.01 L197.1,358.71 L193.4,362.41 L189.7,358.71 Z" fill="#000"/><path d="M212.95,343.18 L216.65,346.88 L212.95,350.58 L209.25,346.88 Z" fill="#000"/><path d="M232.5,323.69 L236.2,327.39 L232.5,331.09 L228.8,327.39 Z" fill="#000"/><path d="M252.05,318.54 L255.75,322.24 L252.05,325.94 L248.35,322.24 Z" fill="#000"/><rect x="53.65" y="309.59" width="5.8" height="5.8" fill="#000"/><rect x="73.2" y="310.57" width="5.8" height="5.8" fill="#000"/><rect x="92.75" y="324.77" width="5.8" height="5.8" fill="#000"/><rect x="112.3" y="332.98" width="5.8" height="5.8" fill="#000"/><rect x="131.85" y="335.76" width="5.8" height="5.8" fill="#000"/><rect x="151.4" y="336.32" width="5.8" height="5.8" fill="#000"/><rect x="170.95" y="335.76" width="5.8" height="5.8" fill="#000"/><rect x="190.5" y="332.98" width="5.8" height="5.8" fill="#000"/><rect x="210.05" y="324.77" width="5.8" height="5.8" fill="#000"/><rect x="229.6" y="310.57" width="5.8" height="5.8" fill="#000"/><rect x="249.15" y="309.59" width="5.8" height="5.8" fill="#000"/><path d="M37,287 L40.5,290.5 L37,294 L33.5,290.5 Z" fill="#fff" stroke="#000" stroke-width="0.9"/><path d="M56.55,290.48 L60.05,293.98 L56.55,297.48 L53.05,293.98 Z" fill="#fff" stroke="#000" stroke-width="0.9"/><path d="M76.1,297.44 L79.6,300.94 L76.1,304.44 L72.6,300.94 Z" fill="#fff" stroke="#000" stroke-width="0.9"/><path d="M95.65,308.99 L99.15,312.49 L95.65,315.99 L92.15,312.49 Z" fill="#fff" stroke="#000" stroke-width="0.9"/><path d="M115.2,317.9 L118.7,321.4 L115.2,324.9 L111.7,321.4 Z" fill="#fff" stroke="#000" stroke-width="0.9"/><path d="M134.75,324.86 L138.25,328.36 L134.75,331.86 L131.25,328.36 Z" fill="#fff" stroke="#000" stroke-width="0.9"/><path d="M154.3,325.98 L157.8,329.48 L154.3,332.98 L150.8,329.48 Z" fill="#fff" stroke="#000" stroke-width="0.9"/><path d="M173.85,324.86 L177.35,328.36 L173.85,331.86 L170.35,328.36 Z" fill="#fff" stroke="#000" stroke-width="0.9"/><path d="M193.4,317.9 L196.9,321.4 L193.4,324.9 L189.9,321.4 Z" fill="#fff" stroke="#000" stroke-width="0.9"/><path d="M212.95,308.99 L216.45,312.49 L212.95,315.99 L209.45,312.49 Z" fill="#fff" stroke="#000" stroke-width="0.9"/><path d="M232.5,297.44 L236,300.94 L232.5,304.44 L229,300.94 Z" fill="#fff" stroke="#000" stroke-width="0.9"/><path d="M252.05,290.48 L255.55,293.98 L252.05,297.48 L248.55,293.98 Z" fill="#fff" stroke="#000" stroke-width="0.9"/>
</g>
<text transform="translate(73.7,257.2) scale(1,1.12)" font-size="10.7" text-anchor="start">&#963;</text>
<text transform="translate(81.2,262.6) scale(1,1.12)" font-size="7.3" text-anchor="start">x</text>
<line x1="40.2" y1="361.1" x2="61.2" y2="361.1" stroke="#999" stroke-width="0.85"/><path d="M50.7,357.68 L53.95,363.32 L47.45,363.32 Z" fill="#fff" stroke="#000" stroke-width="0.9"/><text transform="translate(64.3,365.1) scale(1,1.08)" font-size="9.65" text-anchor="start">B3++G</text>
<line x1="40.2" y1="372.9" x2="61.2" y2="372.9" stroke="#999" stroke-width="0.85"/><path d="M47.28,372.9 L52.92,369.65 L52.92,376.15 Z" fill="#fff" stroke="#000" stroke-width="0.9"/><text transform="translate(64.3,376.9) scale(1,1.08)" font-size="9.65" text-anchor="start">MP+G</text>
<line x1="40.2" y1="384.7" x2="61.2" y2="384.7" stroke="#999" stroke-width="0.85"/><path d="M50.7,381.56 L51.53,383.56 L53.68,383.73 L52.04,385.14 L52.54,387.24 L50.7,386.11 L48.86,387.24 L49.36,385.14 L47.72,383.73 L49.87,383.56 Z" fill="#fff" stroke="#000" stroke-width="0.9"/><text transform="translate(64.3,388.7) scale(1,1.08)" font-size="9.65" text-anchor="start">MP++G</text>
<line x1="121.8" y1="376.4" x2="143.6" y2="376.4" stroke="#999" stroke-width="0.85"/><rect x="129.94" y="373.64" width="5.51" height="5.51" fill="#000"/><text transform="translate(146.4,380.4) scale(1,1.08)" font-size="9.65" text-anchor="start">MP2+G</text>
<line x1="121.8" y1="388.2" x2="143.6" y2="388.2" stroke="#999" stroke-width="0.85"/><path d="M132.7,384.88 L136.02,388.2 L132.7,391.52 L129.38,388.2 Z" fill="#fff" stroke="#000" stroke-width="0.9"/><text transform="translate(146.4,392.2) scale(1,1.08)" font-size="9.65" text-anchor="start">MP2++G</text>
<line x1="218" y1="352" x2="238.5" y2="352" stroke="#999" stroke-width="0.85"/><rect x="225.78" y="349.53" width="4.94" height="4.94" fill="#fff" stroke="#000" stroke-width="0.9"/><text transform="translate(241,356) scale(1,1.08)" font-size="9.65" text-anchor="start">B3G</text>
<line x1="218" y1="363.8" x2="238.5" y2="363.8" stroke="#999" stroke-width="0.85"/><circle cx="228.25" cy="363.8" r="2.85" fill="#fff" stroke="#000" stroke-width="0.9"/><text transform="translate(241,367.8) scale(1,1.08)" font-size="9.65" text-anchor="start">B3+G</text>
<line x1="218" y1="375.9" x2="238.5" y2="375.9" stroke="#333" stroke-width="0.85"/><path d="M228.25,379.32 L231.38,374.19 L225.12,374.19 Z" fill="#000"/><text transform="translate(241,379.9) scale(1,1.08)" font-size="9.65" text-anchor="start">MPG</text>
<line x1="218" y1="387.4" x2="238.5" y2="387.4" stroke="#333" stroke-width="0.85"/><path d="M228.25,383.88 L231.76,387.4 L228.25,390.91 L224.74,387.4 Z" fill="#000"/><text transform="translate(241,391.4) scale(1,1.08)" font-size="9.65" text-anchor="start">MP2G</text>
<text x="0" y="0" font-size="9.9" text-anchor="middle" transform="translate(9.6,314.6) scale(1,0.985) rotate(-90)">Relative Energy (kcal/mol)</text>
<text transform="translate(151.1,425) scale(1,1.12)" font-size="9.5" text-anchor="middle">Angle (Degree)</text>
<path d="M309.88,219.9 H540.62 M309.88,394 H540.62" fill="none" stroke="#646464" stroke-width="1.95"/><path d="M310.6,218.93 V394.98 M539.9,218.93 V394.98" fill="none" stroke="#444" stroke-width="1.45"/><line x1="310.6" y1="394" x2="310.6" y2="397.2" stroke="#5a5a5a" stroke-width="1.1"/><line x1="329.71" y1="394" x2="329.71" y2="396.2" stroke="#5a5a5a" stroke-width="1.1"/><line x1="348.82" y1="394" x2="348.82" y2="397.2" stroke="#5a5a5a" stroke-width="1.1"/><line x1="367.93" y1="394" x2="367.93" y2="396.2" stroke="#5a5a5a" stroke-width="1.1"/><line x1="387.03" y1="394" x2="387.03" y2="397.2" stroke="#5a5a5a" stroke-width="1.1"/><line x1="406.14" y1="394" x2="406.14" y2="396.2" stroke="#5a5a5a" stroke-width="1.1"/><line x1="425.25" y1="394" x2="425.25" y2="397.2" stroke="#5a5a5a" stroke-width="1.1"/><line x1="444.36" y1="394" x2="444.36" y2="396.2" stroke="#5a5a5a" stroke-width="1.1"/><line x1="463.47" y1="394" x2="463.47" y2="397.2" stroke="#5a5a5a" stroke-width="1.1"/><line x1="482.57" y1="394" x2="482.57" y2="396.2" stroke="#5a5a5a" stroke-width="1.1"/><line x1="501.68" y1="394" x2="501.68" y2="397.2" stroke="#5a5a5a" stroke-width="1.1"/><line x1="520.79" y1="394" x2="520.79" y2="396.2" stroke="#5a5a5a" stroke-width="1.1"/><line x1="539.9" y1="394" x2="539.9" y2="397.2" stroke="#5a5a5a" stroke-width="1.1"/><line x1="333.53" y1="219.9" x2="333.53" y2="221.9" stroke="#5a5a5a" stroke-width="1"/><line x1="356.46" y1="219.9" x2="356.46" y2="222.9" stroke="#5a5a5a" stroke-width="1"/><line x1="379.39" y1="219.9" x2="379.39" y2="221.9" stroke="#5a5a5a" stroke-width="1"/><line x1="402.32" y1="219.9" x2="402.32" y2="222.9" stroke="#5a5a5a" stroke-width="1"/><line x1="425.25" y1="219.9" x2="425.25" y2="221.9" stroke="#5a5a5a" stroke-width="1"/><line x1="448.18" y1="219.9" x2="448.18" y2="222.9" stroke="#5a5a5a" stroke-width="1"/><line x1="471.11" y1="219.9" x2="471.11" y2="221.9" stroke="#5a5a5a" stroke-width="1"/><line x1="494.04" y1="219.9" x2="494.04" y2="222.9" stroke="#5a5a5a" stroke-width="1"/><line x1="516.97" y1="219.9" x2="516.97" y2="221.9" stroke="#5a5a5a" stroke-width="1"/><line x1="539.9" y1="237.31" x2="537.5" y2="237.31" stroke="#5a5a5a" stroke-width="1"/><line x1="539.9" y1="254.72" x2="537.5" y2="254.72" stroke="#5a5a5a" stroke-width="1"/><line x1="539.9" y1="272.13" x2="537.5" y2="272.13" stroke="#5a5a5a" stroke-width="1"/><line x1="539.9" y1="289.54" x2="537.5" y2="289.54" stroke="#5a5a5a" stroke-width="1"/><line x1="539.9" y1="306.95" x2="537.5" y2="306.95" stroke="#5a5a5a" stroke-width="1"/><line x1="539.9" y1="324.36" x2="537.5" y2="324.36" stroke="#5a5a5a" stroke-width="1"/><line x1="539.9" y1="341.77" x2="537.5" y2="341.77" stroke="#5a5a5a" stroke-width="1"/><line x1="539.9" y1="359.18" x2="537.5" y2="359.18" stroke="#5a5a5a" stroke-width="1"/><line x1="539.9" y1="376.59" x2="537.5" y2="376.59" stroke="#5a5a5a" stroke-width="1"/><line x1="310.6" y1="248.8" x2="307.4" y2="248.8" stroke="#333" stroke-width="1.25"/><line x1="310.6" y1="306.8" x2="307.4" y2="306.8" stroke="#333" stroke-width="1.25"/><line x1="310.6" y1="364.8" x2="307.4" y2="364.8" stroke="#333" stroke-width="1.25"/><line x1="310.6" y1="219.8" x2="308.4" y2="219.8" stroke="#3a3a3a" stroke-width="1.2"/><line x1="310.6" y1="277.8" x2="308.4" y2="277.8" stroke="#3a3a3a" stroke-width="1.2"/><line x1="310.6" y1="335.8" x2="308.4" y2="335.8" stroke="#3a3a3a" stroke-width="1.2"/><text transform="translate(304.8,251.3) scale(1,1.1)" font-size="9.0" text-anchor="end">0</text><text transform="translate(304.8,309.3) scale(1,1.1)" font-size="9.0" text-anchor="end">-1</text><text transform="translate(304.8,367.3) scale(1,1.1)" font-size="9.0" text-anchor="end">-2</text><text transform="translate(310.6,406.8) scale(1,1.06)" font-size="9.3" text-anchor="middle">0</text><text transform="translate(348.82,406.8) scale(1,1.06)" font-size="9.3" text-anchor="middle">20</text><text transform="translate(387.03,406.8) scale(1,1.06)" font-size="9.3" text-anchor="middle">40</text><text transform="translate(425.25,406.8) scale(1,1.06)" font-size="9.3" text-anchor="middle">60</text><text transform="translate(463.47,406.8) scale(1,1.06)" font-size="9.3" text-anchor="middle">80</text><text transform="translate(501.68,406.8) scale(1,1.06)" font-size="9.3" text-anchor="middle">100</text><text transform="translate(539.9,406.8) scale(1,1.06)" font-size="9.3" text-anchor="middle">120</text>
<g clip-path="url(#c4)">
<path d="M310.6,248.8 C316.97,248.8 323.34,254.01 329.71,264.46 C336.08,274.91 342.45,290.6 348.82,306.8 C355.19,323 361.56,339.7 367.93,350.59 C374.29,361.48 380.66,366.56 387.03,369.15 C393.4,371.74 399.77,371.83 406.14,358.13 C412.51,344.43 418.88,316.95 425.25,316.95 C431.62,316.95 437.99,344.43 444.36,358.13 C450.73,371.83 457.1,371.74 463.47,369.15 C469.84,366.56 476.21,361.48 482.57,350.59 C488.94,339.7 495.31,323 501.68,306.8 C508.05,290.6 514.42,274.91 520.79,264.46 C527.16,254.01 533.53,248.8 539.9,248.8" fill="none" stroke="#000" stroke-width="0.85"/><path d="M310.6,248.8 C316.97,248.8 323.34,251.43 329.71,260.4 C336.08,269.37 342.45,284.68 348.82,298.68 C355.19,312.68 361.56,325.36 367.93,335.8 C374.29,346.24 380.66,354.44 387.03,357.26 C393.4,360.08 399.77,357.53 406.14,348.56 C412.51,339.59 418.88,324.2 425.25,324.2 C431.62,324.2 437.99,339.59 444.36,348.56 C450.73,357.53 457.1,360.08 463.47,357.26 C469.84,354.44 476.21,346.24 482.57,335.8 C488.94,325.36 495.31,312.68 501.68,298.68 C508.05,284.68 514.42,269.37 520.79,260.4 C527.16,251.43 533.53,248.8 539.9,248.8" fill="none" stroke="#000" stroke-width="0.85"/><path d="M310.6,248.8 C316.97,248.8 323.34,253.99 329.71,264.46 C336.08,274.93 342.45,290.66 348.82,306.8 C355.19,322.94 361.56,339.47 367.93,350.3 C374.29,361.13 380.66,366.26 387.03,368.86 C393.4,371.46 399.77,371.54 406.14,357.84 C412.51,344.14 418.88,316.66 425.25,316.66 C431.62,316.66 437.99,344.14 444.36,357.84 C450.73,371.54 457.1,371.46 463.47,368.86 C469.84,366.26 476.21,361.13 482.57,350.3 C488.94,339.47 495.31,322.94 501.68,306.8 C508.05,290.66 514.42,274.93 520.79,264.46 C527.16,253.99 533.53,248.8 539.9,248.8" fill="none" stroke="#000" stroke-width="0.85"/><path d="M310.6,248.8 C316.97,248.8 323.34,251.17 329.71,259.82 C336.08,268.47 342.45,283.4 348.82,296.94 C355.19,310.48 361.56,322.62 367.93,332.9 C374.29,343.18 380.66,351.61 387.03,354.36 C393.4,357.11 399.77,354.18 406.14,345.08 C412.51,335.98 418.88,320.72 425.25,320.72 C431.62,320.72 437.99,335.98 444.36,345.08 C450.73,354.18 457.1,357.11 463.47,354.36 C469.84,351.61 476.21,343.18 482.57,332.9 C488.94,322.62 495.31,310.48 501.68,296.94 C508.05,283.4 514.42,268.47 520.79,259.82 C527.16,251.17 533.53,248.8 539.9,248.8" fill="none" stroke="#333" stroke-width="0.85"/><path d="M310.6,248.8 C316.97,248.8 323.34,253.55 329.71,263.88 C336.08,274.21 342.45,290.13 348.82,306.22 C355.19,322.31 361.56,338.59 367.93,349.14 C374.29,359.69 380.66,364.52 387.03,367.12 C393.4,369.72 399.77,370.09 406.14,356.68 C412.51,343.27 418.88,316.08 425.25,316.08 C431.62,316.08 437.99,343.27 444.36,356.68 C450.73,370.09 457.1,369.72 463.47,367.12 C469.84,364.52 476.21,359.69 482.57,349.14 C488.94,338.59 495.31,322.31 501.68,306.22 C508.05,290.13 514.42,274.21 520.79,263.88 C527.16,253.55 533.53,248.8 539.9,248.8" fill="none" stroke="#000" stroke-width="0.85"/><path d="M310.6,248.8 C316.97,248.8 323.34,249.51 329.71,257.5 C336.08,265.49 342.45,280.75 348.82,293.46 C355.19,306.17 361.56,316.33 367.93,325.94 C374.29,335.55 380.66,344.63 387.03,347.4 C393.4,350.17 399.77,346.64 406.14,336.96 C412.51,327.28 418.88,311.44 425.25,311.44 C431.62,311.44 437.99,327.28 444.36,336.96 C450.73,346.64 457.1,350.17 463.47,347.4 C469.84,344.63 476.21,335.55 482.57,325.94 C488.94,316.33 495.31,306.17 501.68,293.46 C508.05,280.75 514.42,265.49 520.79,257.5 C527.16,249.51 533.53,248.8 539.9,248.8" fill="none" stroke="#333" stroke-width="0.85"/><path d="M310.6,248.8 C316.97,248.8 323.34,249.51 329.71,257.5 C336.08,265.49 342.45,280.75 348.82,293.46 C355.19,306.17 361.56,316.33 367.93,325.94 C374.29,335.55 380.66,344.63 387.03,347.4 C393.4,350.17 399.77,346.64 406.14,336.96 C412.51,327.28 418.88,311.44 425.25,311.44 C431.62,311.44 437.99,327.28 444.36,336.96 C450.73,346.64 457.1,350.17 463.47,347.4 C469.84,344.63 476.21,335.55 482.57,325.94 C488.94,316.33 495.31,306.17 501.68,293.46 C508.05,280.75 514.42,265.49 520.79,257.5 C527.16,249.51 533.53,248.8 539.9,248.8" fill="none" stroke="#333" stroke-width="0.85"/><path d="M310.6,248.8 C316.97,248.8 323.34,249.62 329.71,257.5 C336.08,265.38 342.45,280.3 348.82,292.88 C355.19,305.46 361.56,315.69 367.93,325.36 C374.29,335.03 380.66,344.14 387.03,346.82 C393.4,349.5 399.77,345.75 406.14,335.8 C412.51,325.85 418.88,309.7 425.25,309.7 C431.62,309.7 437.99,325.85 444.36,335.8 C450.73,345.75 457.1,349.5 463.47,346.82 C469.84,344.14 476.21,335.03 482.57,325.36 C488.94,315.69 495.31,305.46 501.68,292.88 C508.05,280.3 514.42,265.38 520.79,257.5 C527.16,249.62 533.53,248.8 539.9,248.8" fill="none" stroke="#333" stroke-width="0.85"/><path d="M310.6,248.8 C316.97,248.8 323.34,249.09 329.71,256.92 C336.08,264.75 342.45,280.13 348.82,292.88 C355.19,305.63 361.56,315.76 367.93,325.36 C374.29,334.96 380.66,344.04 387.03,346.82 C393.4,349.6 399.77,346.06 406.14,336.38 C412.51,326.7 418.88,310.86 425.25,310.86 C431.62,310.86 437.99,326.7 444.36,336.38 C450.73,346.06 457.1,349.6 463.47,346.82 C469.84,344.04 476.21,334.96 482.57,325.36 C488.94,315.76 495.31,305.63 501.68,292.88 C508.05,280.13 514.42,264.75 520.79,256.92 C527.16,249.09 533.53,248.8 539.9,248.8" fill="none" stroke="#333" stroke-width="0.85"/><rect x="327.11" y="257.22" width="5.2" height="5.2" fill="#fff" stroke="#000" stroke-width="0.9"/><rect x="346.22" y="294.34" width="5.2" height="5.2" fill="#fff" stroke="#000" stroke-width="0.9"/><rect x="365.32" y="330.3" width="5.2" height="5.2" fill="#fff" stroke="#000" stroke-width="0.9"/><rect x="384.43" y="351.76" width="5.2" height="5.2" fill="#fff" stroke="#000" stroke-width="0.9"/><rect x="403.54" y="342.48" width="5.2" height="5.2" fill="#fff" stroke="#000" stroke-width="0.9"/><rect x="422.65" y="318.12" width="5.2" height="5.2" fill="#fff" stroke="#000" stroke-width="0.9"/><rect x="441.76" y="342.48" width="5.2" height="5.2" fill="#fff" stroke="#000" stroke-width="0.9"/><rect x="460.87" y="351.76" width="5.2" height="5.2" fill="#fff" stroke="#000" stroke-width="0.9"/><rect x="479.97" y="330.3" width="5.2" height="5.2" fill="#fff" stroke="#000" stroke-width="0.9"/><rect x="499.08" y="294.34" width="5.2" height="5.2" fill="#fff" stroke="#000" stroke-width="0.9"/><rect x="518.19" y="257.22" width="5.2" height="5.2" fill="#fff" stroke="#000" stroke-width="0.9"/><circle cx="329.71" cy="257.5" r="3" fill="#fff" stroke="#000" stroke-width="0.9"/><circle cx="348.82" cy="292.88" r="3" fill="#fff" stroke="#000" stroke-width="0.9"/><circle cx="367.93" cy="325.36" r="3" fill="#fff" stroke="#000" stroke-width="0.9"/><circle cx="387.03" cy="346.82" r="3" fill="#fff" stroke="#000" stroke-width="0.9"/><circle cx="406.14" cy="335.8" r="3" fill="#fff" stroke="#000" stroke-width="0.9"/><circle cx="425.25" cy="309.7" r="3" fill="#fff" stroke="#000" stroke-width="0.9"/><circle cx="444.36" cy="335.8" r="3" fill="#fff" stroke="#000" stroke-width="0.9"/><circle cx="463.47" cy="346.82" r="3" fill="#fff" stroke="#000" stroke-width="0.9"/><circle cx="482.57" cy="325.36" r="3" fill="#fff" stroke="#000" stroke-width="0.9"/><circle cx="501.68" cy="292.88" r="3" fill="#fff" stroke="#000" stroke-width="0.9"/><circle cx="520.79" cy="257.5" r="3" fill="#fff" stroke="#000" stroke-width="0.9"/><circle cx="539.9" cy="248.8" r="3" fill="#fff" stroke="#000" stroke-width="0.9"/><path d="M329.71,253.32 L333.13,259.26 L326.29,259.26 Z" fill="#fff" stroke="#000" stroke-width="0.9"/><path d="M348.82,289.28 L352.24,295.22 L345.4,295.22 Z" fill="#fff" stroke="#000" stroke-width="0.9"/><path d="M367.93,321.76 L371.35,327.7 L364.5,327.7 Z" fill="#fff" stroke="#000" stroke-width="0.9"/><path d="M387.03,343.22 L390.45,349.16 L383.61,349.16 Z" fill="#fff" stroke="#000" stroke-width="0.9"/><path d="M406.14,332.78 L409.56,338.72 L402.72,338.72 Z" fill="#fff" stroke="#000" stroke-width="0.9"/><path d="M425.25,307.26 L428.67,313.2 L421.83,313.2 Z" fill="#fff" stroke="#000" stroke-width="0.9"/><path d="M444.36,332.78 L447.78,338.72 L440.94,338.72 Z" fill="#fff" stroke="#000" stroke-width="0.9"/><path d="M463.47,343.22 L466.89,349.16 L460.05,349.16 Z" fill="#fff" stroke="#000" stroke-width="0.9"/><path d="M482.57,321.76 L486,327.7 L479.15,327.7 Z" fill="#fff" stroke="#000" stroke-width="0.9"/><path d="M501.68,289.28 L505.1,295.22 L498.26,295.22 Z" fill="#fff" stroke="#000" stroke-width="0.9"/><path d="M520.79,253.32 L524.21,259.26 L517.37,259.26 Z" fill="#fff" stroke="#000" stroke-width="0.9"/><path d="M329.71,264 L333.01,258.6 L326.41,258.6 Z" fill="#000"/><path d="M348.82,302.28 L352.12,296.88 L345.52,296.88 Z" fill="#000"/><path d="M367.93,339.4 L371.23,334 L364.62,334 Z" fill="#000"/><path d="M387.03,360.86 L390.33,355.46 L383.73,355.46 Z" fill="#000"/><path d="M406.14,352.16 L409.44,346.76 L402.84,346.76 Z" fill="#000"/><path d="M425.25,327.8 L428.55,322.4 L421.95,322.4 Z" fill="#000"/><path d="M444.36,352.16 L447.66,346.76 L441.06,346.76 Z" fill="#000"/><path d="M463.47,360.86 L466.77,355.46 L460.17,355.46 Z" fill="#000"/><path d="M482.57,339.4 L485.88,334 L479.27,334 Z" fill="#000"/><path d="M501.68,302.28 L504.98,296.88 L498.38,296.88 Z" fill="#000"/><path d="M520.79,264 L524.09,258.6 L517.49,258.6 Z" fill="#000"/><path d="M326.11,257.5 L332.05,254.08 L332.05,260.92 Z" fill="#fff" stroke="#000" stroke-width="0.9"/><path d="M345.22,293.46 L351.16,290.04 L351.16,296.88 Z" fill="#fff" stroke="#000" stroke-width="0.9"/><path d="M364.32,325.94 L370.26,322.52 L370.26,329.36 Z" fill="#fff" stroke="#000" stroke-width="0.9"/><path d="M383.43,347.4 L389.37,343.98 L389.37,350.82 Z" fill="#fff" stroke="#000" stroke-width="0.9"/><path d="M402.54,336.96 L408.48,333.54 L408.48,340.38 Z" fill="#fff" stroke="#000" stroke-width="0.9"/><path d="M421.65,311.44 L427.59,308.02 L427.59,314.86 Z" fill="#fff" stroke="#000" stroke-width="0.9"/><path d="M440.76,336.96 L446.7,333.54 L446.7,340.38 Z" fill="#fff" stroke="#000" stroke-width="0.9"/><path d="M459.87,347.4 L465.81,343.98 L465.81,350.82 Z" fill="#fff" stroke="#000" stroke-width="0.9"/><path d="M478.97,325.94 L484.91,322.52 L484.91,329.36 Z" fill="#fff" stroke="#000" stroke-width="0.9"/><path d="M498.08,293.46 L504.02,290.04 L504.02,296.88 Z" fill="#fff" stroke="#000" stroke-width="0.9"/><path d="M517.19,257.5 L523.13,254.08 L523.13,260.92 Z" fill="#fff" stroke="#000" stroke-width="0.9"/><path d="M329.71,254.2 L330.58,256.3 L332.85,256.48 L331.12,257.96 L331.65,260.17 L329.71,258.99 L327.77,260.17 L328.3,257.96 L326.57,256.48 L328.84,256.3 Z" fill="#fff" stroke="#000" stroke-width="0.9"/><path d="M348.82,290.16 L349.69,292.26 L351.96,292.44 L350.23,293.92 L350.76,296.13 L348.82,294.95 L346.88,296.13 L347.4,293.92 L345.68,292.44 L347.94,292.26 Z" fill="#fff" stroke="#000" stroke-width="0.9"/><path d="M367.93,322.64 L368.8,324.74 L371.06,324.92 L369.34,326.4 L369.86,328.61 L367.93,327.43 L365.99,328.61 L366.51,326.4 L364.79,324.92 L367.05,324.74 Z" fill="#fff" stroke="#000" stroke-width="0.9"/><path d="M387.03,344.1 L387.91,346.2 L390.17,346.38 L388.45,347.86 L388.97,350.07 L387.03,348.88 L385.09,350.07 L385.62,347.86 L383.89,346.38 L386.16,346.2 Z" fill="#fff" stroke="#000" stroke-width="0.9"/><path d="M406.14,333.66 L407.01,335.76 L409.28,335.94 L407.55,337.42 L408.08,339.63 L406.14,338.45 L404.2,339.63 L404.73,337.42 L403,335.94 L405.27,335.76 Z" fill="#fff" stroke="#000" stroke-width="0.9"/><path d="M425.25,308.14 L426.12,310.24 L428.39,310.42 L426.66,311.9 L427.19,314.11 L425.25,312.93 L423.31,314.11 L423.84,311.9 L422.11,310.42 L424.38,310.24 Z" fill="#fff" stroke="#000" stroke-width="0.9"/><path d="M444.36,333.66 L445.23,335.76 L447.5,335.94 L445.77,337.42 L446.3,339.63 L444.36,338.45 L442.42,339.63 L442.95,337.42 L441.22,335.94 L443.49,335.76 Z" fill="#fff" stroke="#000" stroke-width="0.9"/><path d="M463.47,344.1 L464.34,346.2 L466.61,346.38 L464.88,347.86 L465.41,350.07 L463.47,348.88 L461.53,350.07 L462.05,347.86 L460.33,346.38 L462.59,346.2 Z" fill="#fff" stroke="#000" stroke-width="0.9"/><path d="M482.57,322.64 L483.45,324.74 L485.71,324.92 L483.99,326.4 L484.51,328.61 L482.57,327.43 L480.64,328.61 L481.16,326.4 L479.44,324.92 L481.7,324.74 Z" fill="#fff" stroke="#000" stroke-width="0.9"/><path d="M501.68,290.16 L502.56,292.26 L504.82,292.44 L503.1,293.92 L503.62,296.13 L501.68,294.95 L499.74,296.13 L500.27,293.92 L498.54,292.44 L500.81,292.26 Z" fill="#fff" stroke="#000" stroke-width="0.9"/><path d="M520.79,254.2 L521.66,256.3 L523.93,256.48 L522.2,257.96 L522.73,260.17 L520.79,258.99 L518.85,260.17 L519.38,257.96 L517.65,256.48 L519.92,256.3 Z" fill="#fff" stroke="#000" stroke-width="0.9"/><path d="M329.71,260.76 L333.41,264.46 L329.71,268.16 L326.01,264.46 Z" fill="#000"/><path d="M348.82,303.1 L352.52,306.8 L348.82,310.5 L345.12,306.8 Z" fill="#000"/><path d="M367.93,346.6 L371.62,350.3 L367.93,354 L364.23,350.3 Z" fill="#000"/><path d="M387.03,365.16 L390.73,368.86 L387.03,372.56 L383.33,368.86 Z" fill="#000"/><path d="M406.14,354.14 L409.84,357.84 L406.14,361.54 L402.44,357.84 Z" fill="#000"/><path d="M425.25,312.96 L428.95,316.66 L425.25,320.36 L421.55,316.66 Z" fill="#000"/><path d="M444.36,354.14 L448.06,357.84 L444.36,361.54 L440.66,357.84 Z" fill="#000"/><path d="M463.47,365.16 L467.17,368.86 L463.47,372.56 L459.77,368.86 Z" fill="#000"/><path d="M482.57,346.6 L486.27,350.3 L482.57,354 L478.88,350.3 Z" fill="#000"/><path d="M501.68,303.1 L505.38,306.8 L501.68,310.5 L497.98,306.8 Z" fill="#000"/><path d="M520.79,260.76 L524.49,264.46 L520.79,268.16 L517.09,264.46 Z" fill="#000"/><rect x="326.81" y="261.56" width="5.8" height="5.8" fill="#000"/><rect x="345.92" y="303.9" width="5.8" height="5.8" fill="#000"/><rect x="365.03" y="347.69" width="5.8" height="5.8" fill="#000"/><rect x="384.13" y="366.25" width="5.8" height="5.8" fill="#000"/><rect x="403.24" y="355.23" width="5.8" height="5.8" fill="#000"/><rect x="422.35" y="314.05" width="5.8" height="5.8" fill="#000"/><rect x="441.46" y="355.23" width="5.8" height="5.8" fill="#000"/><rect x="460.57" y="366.25" width="5.8" height="5.8" fill="#000"/><rect x="479.68" y="347.69" width="5.8" height="5.8" fill="#000"/><rect x="498.78" y="303.9" width="5.8" height="5.8" fill="#000"/><rect x="517.89" y="261.56" width="5.8" height="5.8" fill="#000"/><path d="M310.6,245.3 L314.1,248.8 L310.6,252.3 L307.1,248.8 Z" fill="#fff" stroke="#000" stroke-width="0.9"/><path d="M329.71,260.38 L333.21,263.88 L329.71,267.38 L326.21,263.88 Z" fill="#fff" stroke="#000" stroke-width="0.9"/><path d="M348.82,302.72 L352.32,306.22 L348.82,309.72 L345.32,306.22 Z" fill="#fff" stroke="#000" stroke-width="0.9"/><path d="M367.93,345.64 L371.43,349.14 L367.93,352.64 L364.43,349.14 Z" fill="#fff" stroke="#000" stroke-width="0.9"/><path d="M387.03,363.62 L390.53,367.12 L387.03,370.62 L383.53,367.12 Z" fill="#fff" stroke="#000" stroke-width="0.9"/><path d="M406.14,353.18 L409.64,356.68 L406.14,360.18 L402.64,356.68 Z" fill="#fff" stroke="#000" stroke-width="0.9"/><path d="M425.25,312.58 L428.75,316.08 L425.25,319.58 L421.75,316.08 Z" fill="#fff" stroke="#000" stroke-width="0.9"/><path d="M444.36,353.18 L447.86,356.68 L444.36,360.18 L440.86,356.68 Z" fill="#fff" stroke="#000" stroke-width="0.9"/><path d="M463.47,363.62 L466.97,367.12 L463.47,370.62 L459.97,367.12 Z" fill="#fff" stroke="#000" stroke-width="0.9"/><path d="M482.57,345.64 L486.07,349.14 L482.57,352.64 L479.07,349.14 Z" fill="#fff" stroke="#000" stroke-width="0.9"/><path d="M501.68,302.72 L505.18,306.22 L501.68,309.72 L498.18,306.22 Z" fill="#fff" stroke="#000" stroke-width="0.9"/><path d="M520.79,260.38 L524.29,263.88 L520.79,267.38 L517.29,263.88 Z" fill="#fff" stroke="#000" stroke-width="0.9"/>
</g>
<text transform="translate(419.2,282) scale(1,1.12)" font-size="9.8" text-anchor="start">&#960;</text>
<text transform="translate(426.2,288.4) scale(1,1.12)" font-size="7.3" text-anchor="start">y</text>
<text transform="translate(430.8,272.8) scale(1,1.12)" font-size="8.5" text-anchor="start">*</text>
<line x1="310.7" y1="352.3" x2="331.2" y2="352.3" stroke="#707070" stroke-width="0.85"/><path d="M320.95,348.88 L324.2,354.52 L317.7,354.52 Z" fill="#fff" stroke="#000" stroke-width="0.9"/><text transform="translate(334,356.3) scale(1,1.08)" font-size="9.65" text-anchor="start">B3++G</text>
<line x1="310.7" y1="364.5" x2="331.2" y2="364.5" stroke="#707070" stroke-width="0.85"/><path d="M317.53,364.5 L323.17,361.25 L323.17,367.75 Z" fill="#fff" stroke="#000" stroke-width="0.9"/><text transform="translate(334,368.5) scale(1,1.08)" font-size="9.65" text-anchor="start">MP+G</text>
<line x1="310.7" y1="376.3" x2="331.2" y2="376.3" stroke="#707070" stroke-width="0.85"/><path d="M320.95,373.17 L321.78,375.16 L323.93,375.33 L322.29,376.74 L322.79,378.84 L320.95,377.71 L319.11,378.84 L319.61,376.74 L317.97,375.33 L320.12,375.16 Z" fill="#fff" stroke="#000" stroke-width="0.9"/><text transform="translate(334,380.3) scale(1,1.08)" font-size="9.65" text-anchor="start">MP++G</text>
<line x1="310.7" y1="388.3" x2="331.2" y2="388.3" stroke="#222" stroke-width="0.85"/><rect x="318.19" y="385.55" width="5.51" height="5.51" fill="#000"/><text transform="translate(334,392.3) scale(1,1.08)" font-size="9.65" text-anchor="start">MP2+G</text>
<line x1="397.3" y1="379.6" x2="417.3" y2="379.6" stroke="#707070" stroke-width="0.85"/><path d="M407.3,376.28 L410.62,379.6 L407.3,382.93 L403.98,379.6 Z" fill="#fff" stroke="#000" stroke-width="0.9"/><text transform="translate(420.4,383.6) scale(1,1.08)" font-size="9.65" text-anchor="start">MP2++G</text>
<line x1="488.1" y1="348.8" x2="509.1" y2="348.8" stroke="#707070" stroke-width="0.85"/><rect x="496.13" y="346.33" width="4.94" height="4.94" fill="#fff" stroke="#000" stroke-width="0.9"/><text transform="translate(512.2,352.8) scale(1,1.08)" font-size="9.65" text-anchor="start">B3G</text>
<line x1="488.1" y1="360.6" x2="509.1" y2="360.6" stroke="#707070" stroke-width="0.85"/><circle cx="498.6" cy="360.6" r="2.85" fill="#fff" stroke="#000" stroke-width="0.9"/><text transform="translate(512.2,364.6) scale(1,1.08)" font-size="9.65" text-anchor="start">B3+G</text>
<line x1="488.1" y1="372.9" x2="509.1" y2="372.9" stroke="#222" stroke-width="0.85"/><path d="M498.6,376.32 L501.74,371.19 L495.47,371.19 Z" fill="#000"/><text transform="translate(512.2,376.9) scale(1,1.08)" font-size="9.65" text-anchor="start">MPG</text>
<line x1="488.1" y1="384.5" x2="509.1" y2="384.5" stroke="#222" stroke-width="0.85"/><path d="M498.6,380.99 L502.12,384.5 L498.6,388.01 L495.09,384.5 Z" fill="#000"/><text transform="translate(512.2,388.5) scale(1,1.08)" font-size="9.65" text-anchor="start">MP2G</text>
<text x="0" y="0" font-size="9.9" text-anchor="middle" transform="translate(290.2,313.6) scale(1,0.985) rotate(-90)">Relative Energy (kcal/mol)</text>
<text transform="translate(425.3,423) scale(1,1.12)" font-size="9.5" text-anchor="middle">Angle (Degree)</text>
</svg>
</div>
</body></html>
